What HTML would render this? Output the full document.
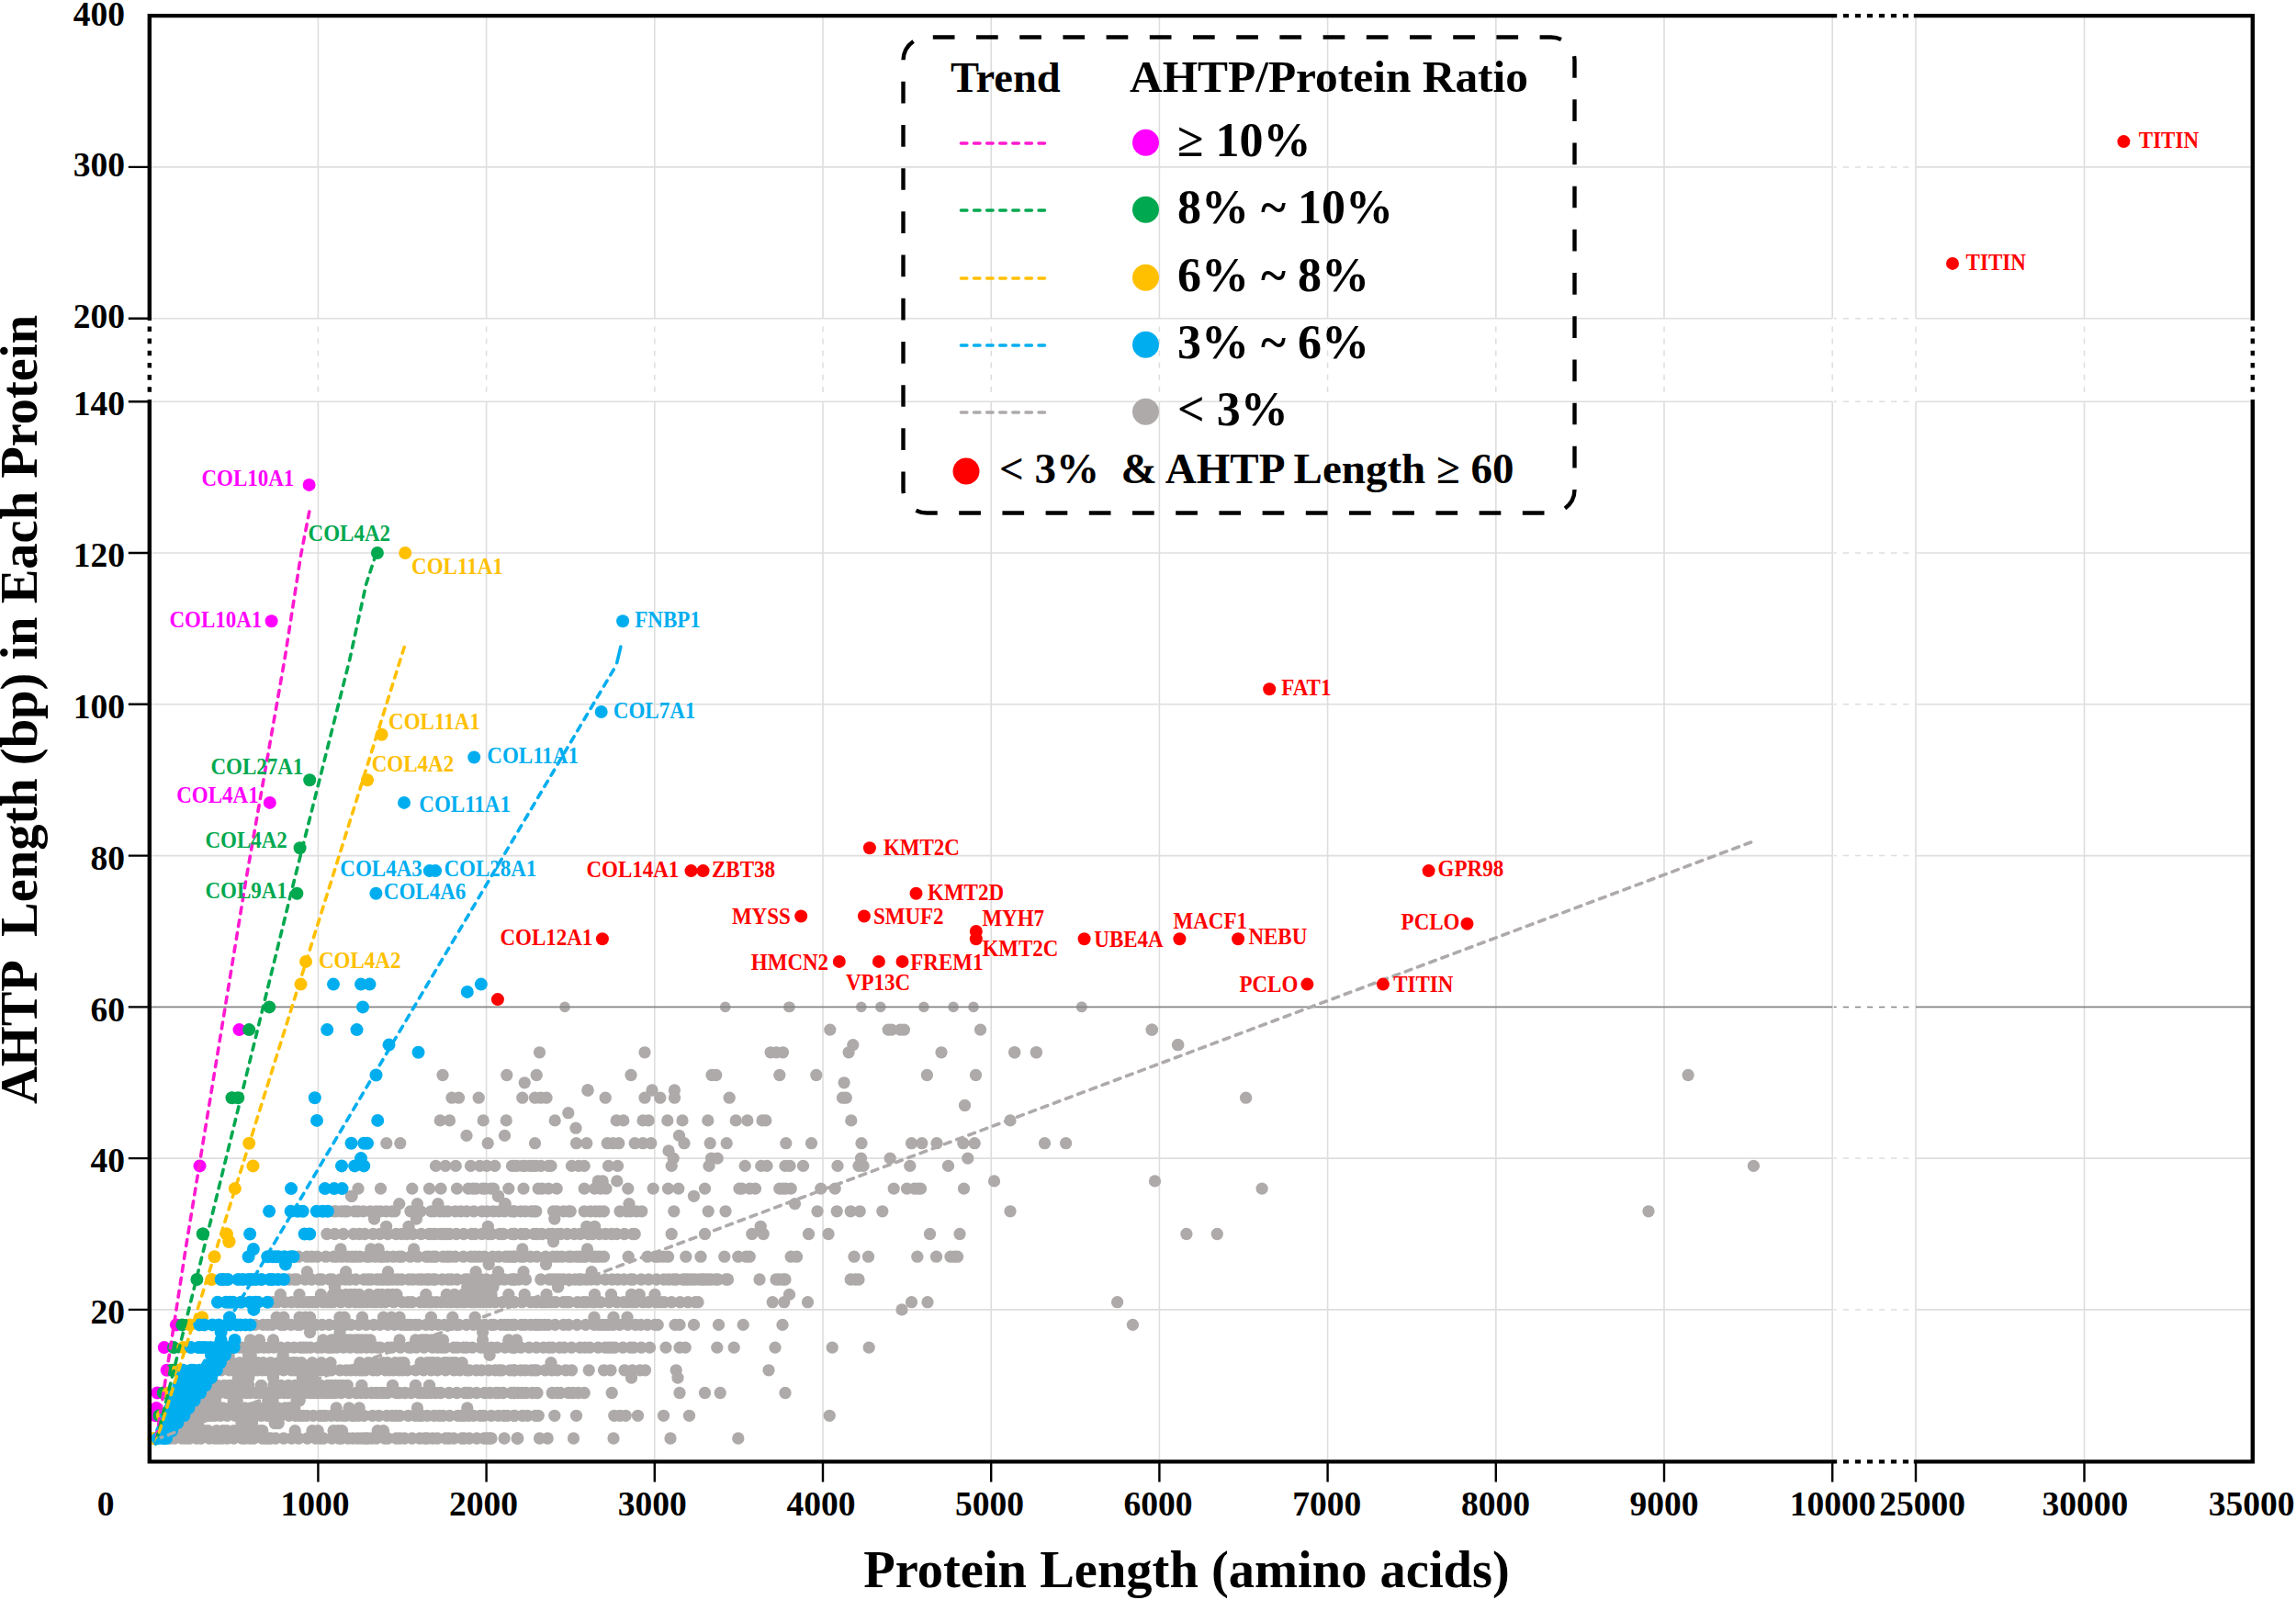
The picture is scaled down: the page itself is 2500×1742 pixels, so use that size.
<!DOCTYPE html>
<html><head><meta charset="utf-8"><title>AHTP Length vs Protein Length</title>
<style>html,body{margin:0;padding:0;background:#fff}body{width:2500px;height:1742px;overflow:hidden}</style></head>
<body>
<svg width="2500" height="1742" viewBox="0 0 2500 1742" style="display:block">
<rect width="2500" height="1742" fill="#fff"/>
<g stroke="#dedede" stroke-width="1.6" fill="none">
<path d="M346.4 17.1 V346.7 M346.4 437.2 V1591.4"/>
<path d="M529.6 17.1 V346.7 M529.6 437.2 V1591.4"/>
<path d="M712.8 17.1 V346.7 M712.8 437.2 V1591.4"/>
<path d="M896.0 17.1 V346.7 M896.0 437.2 V1591.4"/>
<path d="M1079.2 17.1 V346.7 M1079.2 437.2 V1591.4"/>
<path d="M1262.4 17.1 V346.7 M1262.4 437.2 V1591.4"/>
<path d="M1445.6 17.1 V346.7 M1445.6 437.2 V1591.4"/>
<path d="M1628.8 17.1 V346.7 M1628.8 437.2 V1591.4"/>
<path d="M1812.0 17.1 V346.7 M1812.0 437.2 V1591.4"/>
<path d="M1995.2 17.1 V346.7 M1995.2 437.2 V1591.4"/>
<path d="M2086.0 17.1 V346.7 M2086.0 437.2 V1591.4"/>
<path d="M2269.5 17.1 V346.7 M2269.5 437.2 V1591.4"/>
<path d="M162.8 1425.9 H1995.2 M2086.0 1425.9 H2452.8"/>
<path d="M162.8 1261.1 H1995.2 M2086.0 1261.1 H2452.8"/>
<path d="M162.8 931.6 H1995.2 M2086.0 931.6 H2452.8"/>
<path d="M162.8 766.8 H1995.2 M2086.0 766.8 H2452.8"/>
<path d="M162.8 602.0 H1995.2 M2086.0 602.0 H2452.8"/>
<path d="M162.8 437.2 H1995.2 M2086.0 437.2 H2452.8"/>
<path d="M162.8 346.7 H1995.2 M2086.0 346.7 H2452.8"/>
<path d="M162.8 181.9 H1995.2 M2086.0 181.9 H2452.8"/>
</g>
<g stroke="#dedede" stroke-width="1.5" fill="none" stroke-dasharray="6.2 6.87">
<path d="M346.4 355.4 V431.2"/>
<path d="M529.6 355.4 V431.2"/>
<path d="M712.8 355.4 V431.2"/>
<path d="M896.0 355.4 V431.2"/>
<path d="M1079.2 355.4 V431.2"/>
<path d="M1262.4 355.4 V431.2"/>
<path d="M1445.6 355.4 V431.2"/>
<path d="M1628.8 355.4 V431.2"/>
<path d="M1812.0 355.4 V431.2"/>
<path d="M1995.2 355.4 V431.2"/>
<path d="M2086.0 355.4 V431.2"/>
<path d="M2269.5 355.4 V431.2"/>
</g>
<g stroke="#dedede" stroke-width="1.5" fill="none" stroke-dasharray="6.3 6.77">
<path d="M2006.8 1425.9 H2080.0 "/>
<path d="M1996.7 1425.9 h3" stroke-dasharray="none"/>
<path d="M2006.8 1261.1 H2080.0 "/>
<path d="M1996.7 1261.1 h3" stroke-dasharray="none"/>
<path d="M2006.8 931.6 H2080.0 "/>
<path d="M1996.7 931.6 h3" stroke-dasharray="none"/>
<path d="M2006.8 766.8 H2080.0 "/>
<path d="M1996.7 766.8 h3" stroke-dasharray="none"/>
<path d="M2006.8 602.0 H2080.0 "/>
<path d="M1996.7 602.0 h3" stroke-dasharray="none"/>
<path d="M2006.8 437.2 H2080.0 "/>
<path d="M1996.7 437.2 h3" stroke-dasharray="none"/>
<path d="M2006.8 346.7 H2080.0 "/>
<path d="M1996.7 346.7 h3" stroke-dasharray="none"/>
<path d="M2006.8 181.9 H2080.0 "/>
<path d="M1996.7 181.9 h3" stroke-dasharray="none"/>
</g>
<g fill="#AEAAAA">
<circle cx="615.0" cy="1096.4" r="5.8"/><circle cx="587.5" cy="1145.8" r="6.65"/><circle cx="702.0" cy="1145.8" r="6.65"/><circle cx="482.0" cy="1170.5" r="6.65"/><circle cx="551.8" cy="1170.5" r="6.65"/><circle cx="584.2" cy="1170.5" r="6.65"/><circle cx="687.0" cy="1170.5" r="6.65"/><circle cx="571.2" cy="1178.8" r="6.65"/><circle cx="640.0" cy="1187.0" r="6.65"/><circle cx="710.0" cy="1187.0" r="6.65"/><circle cx="492.0" cy="1195.2" r="6.65"/><circle cx="499.5" cy="1195.2" r="6.65"/><circle cx="521.2" cy="1195.2" r="6.65"/><circle cx="479.2" cy="1219.9" r="6.65"/><circle cx="489.5" cy="1219.9" r="6.65"/><circle cx="526.2" cy="1219.9" r="6.65"/><circle cx="551.2" cy="1219.9" r="6.65"/><circle cx="508.0" cy="1236.4" r="6.65"/><circle cx="549.5" cy="1236.4" r="6.65"/><circle cx="420.8" cy="1244.7" r="6.65"/><circle cx="435.8" cy="1244.7" r="6.65"/><circle cx="531.2" cy="1244.7" r="6.65"/><circle cx="474.5" cy="1269.4" r="6.65"/><circle cx="485.0" cy="1269.4" r="6.65"/><circle cx="496.2" cy="1269.4" r="6.65"/><circle cx="512.5" cy="1269.4" r="6.65"/><circle cx="522.5" cy="1269.4" r="6.65"/><circle cx="530.0" cy="1269.4" r="6.65"/><circle cx="538.8" cy="1269.4" r="6.65"/><circle cx="557.5" cy="1269.4" r="6.65"/><circle cx="390.0" cy="1294.1" r="6.65"/><circle cx="414.5" cy="1294.1" r="6.65"/><circle cx="448.8" cy="1294.1" r="6.65"/><circle cx="467.5" cy="1294.1" r="6.65"/><circle cx="480.0" cy="1294.1" r="6.65"/><circle cx="497.5" cy="1294.1" r="6.65"/><circle cx="510.0" cy="1294.1" r="6.65"/><circle cx="514.8" cy="1294.1" r="6.65"/><circle cx="518.3" cy="1294.1" r="6.65"/><circle cx="525.4" cy="1294.1" r="6.65"/><circle cx="528.4" cy="1294.1" r="6.65"/><circle cx="534.6" cy="1294.1" r="6.65"/><circle cx="537.5" cy="1294.1" r="6.65"/><circle cx="553.8" cy="1294.1" r="6.65"/><circle cx="382.5" cy="1302.3" r="6.65"/><circle cx="542.5" cy="1302.3" r="6.65"/><circle cx="550.0" cy="1310.6" r="6.65"/><circle cx="789.7" cy="1096.4" r="5.8"/><circle cx="858.8" cy="1096.4" r="5.8"/><circle cx="839.1" cy="1145.8" r="6.65"/><circle cx="845.3" cy="1145.8" r="6.65"/><circle cx="852.5" cy="1145.8" r="6.65"/><circle cx="775.0" cy="1170.5" r="6.65"/><circle cx="779.7" cy="1170.5" r="6.65"/><circle cx="848.8" cy="1170.5" r="6.65"/><circle cx="734.4" cy="1187.0" r="6.65"/><circle cx="860.0" cy="1096.4" r="5.8"/><circle cx="937.8" cy="1096.4" r="5.8"/><circle cx="958.8" cy="1096.4" r="5.8"/><circle cx="1005.9" cy="1096.4" r="5.8"/><circle cx="1038.1" cy="1096.4" r="5.8"/><circle cx="1060.0" cy="1096.4" r="5.8"/><circle cx="1177.8" cy="1096.4" r="5.8"/><circle cx="903.8" cy="1121.1" r="6.65"/><circle cx="967.2" cy="1121.1" r="6.65"/><circle cx="970.9" cy="1121.1" r="6.65"/><circle cx="980.3" cy="1121.1" r="6.65"/><circle cx="984.4" cy="1121.1" r="6.65"/><circle cx="1067.5" cy="1121.1" r="6.65"/><circle cx="1254.4" cy="1121.1" r="6.65"/><circle cx="928.8" cy="1137.6" r="6.65"/><circle cx="1282.5" cy="1137.6" r="6.65"/><circle cx="924.1" cy="1145.8" r="6.65"/><circle cx="1025.0" cy="1145.8" r="6.65"/><circle cx="1104.7" cy="1145.8" r="6.65"/><circle cx="1128.4" cy="1145.8" r="6.65"/><circle cx="888.8" cy="1170.5" r="6.65"/><circle cx="1009.4" cy="1170.5" r="6.65"/><circle cx="1062.5" cy="1170.5" r="6.65"/><circle cx="919.1" cy="1178.8" r="6.65"/><circle cx="1356.6" cy="1195.2" r="6.65"/><circle cx="1137.5" cy="1244.7" r="6.65"/><circle cx="1160.6" cy="1244.7" r="6.65"/><circle cx="1257.5" cy="1285.9" r="6.65"/><circle cx="1374.1" cy="1294.1" r="6.65"/><circle cx="1291.9" cy="1343.5" r="6.65"/><circle cx="1325.3" cy="1343.5" r="6.65"/><circle cx="1216.6" cy="1417.7" r="6.65"/><circle cx="1233.4" cy="1442.4" r="6.65"/><circle cx="1177.8" cy="1096.4" r="5.8"/><circle cx="1254.1" cy="1121.1" r="6.65"/><circle cx="1282.8" cy="1137.6" r="6.65"/><circle cx="1104.7" cy="1145.8" r="6.65"/><circle cx="1128.4" cy="1145.8" r="6.65"/><circle cx="1838.1" cy="1170.5" r="6.65"/><circle cx="1909.4" cy="1269.4" r="6.65"/><circle cx="1795.0" cy="1318.8" r="6.65"/><circle cx="568.8" cy="1195.2" r="6.65"/><circle cx="582.5" cy="1195.2" r="6.65"/><circle cx="588.8" cy="1195.2" r="6.65"/><circle cx="595.0" cy="1195.2" r="6.65"/><circle cx="659.2" cy="1195.2" r="6.65"/><circle cx="702.0" cy="1195.2" r="6.65"/><circle cx="718.8" cy="1195.2" r="6.65"/><circle cx="734.5" cy="1195.2" r="6.65"/><circle cx="794.2" cy="1195.2" r="6.65"/><circle cx="917.5" cy="1195.2" r="6.65"/><circle cx="921.2" cy="1195.2" r="6.65"/><circle cx="640.0" cy="1187.0" r="6.65"/><circle cx="1050.5" cy="1203.5" r="6.65"/><circle cx="618.8" cy="1211.7" r="6.65"/><circle cx="604.2" cy="1219.9" r="6.65"/><circle cx="671.2" cy="1219.9" r="6.65"/><circle cx="678.8" cy="1219.9" r="6.65"/><circle cx="700.0" cy="1219.9" r="6.65"/><circle cx="706.2" cy="1219.9" r="6.65"/><circle cx="726.8" cy="1219.9" r="6.65"/><circle cx="743.0" cy="1219.9" r="6.65"/><circle cx="770.8" cy="1219.9" r="6.65"/><circle cx="801.2" cy="1219.9" r="6.65"/><circle cx="813.8" cy="1219.9" r="6.65"/><circle cx="830.0" cy="1219.9" r="6.65"/><circle cx="833.8" cy="1219.9" r="6.65"/><circle cx="926.8" cy="1219.9" r="6.65"/><circle cx="1100.0" cy="1219.9" r="6.65"/><circle cx="627.0" cy="1228.2" r="6.65"/><circle cx="739.5" cy="1236.4" r="6.65"/><circle cx="582.5" cy="1244.7" r="6.65"/><circle cx="627.5" cy="1244.7" r="6.65"/><circle cx="638.8" cy="1244.7" r="6.65"/><circle cx="661.2" cy="1244.7" r="6.65"/><circle cx="667.5" cy="1244.7" r="6.65"/><circle cx="673.8" cy="1244.7" r="6.65"/><circle cx="691.2" cy="1244.7" r="6.65"/><circle cx="700.0" cy="1244.7" r="6.65"/><circle cx="708.8" cy="1244.7" r="6.65"/><circle cx="745.0" cy="1244.7" r="6.65"/><circle cx="773.2" cy="1244.7" r="6.65"/><circle cx="791.2" cy="1244.7" r="6.65"/><circle cx="855.8" cy="1244.7" r="6.65"/><circle cx="883.5" cy="1244.7" r="6.65"/><circle cx="938.0" cy="1244.7" r="6.65"/><circle cx="992.5" cy="1244.7" r="6.65"/><circle cx="1003.8" cy="1244.7" r="6.65"/><circle cx="1020.0" cy="1244.7" r="6.65"/><circle cx="1048.8" cy="1244.7" r="6.65"/><circle cx="1061.2" cy="1244.7" r="6.65"/><circle cx="728.0" cy="1252.9" r="6.65"/><circle cx="733.2" cy="1261.1" r="6.65"/><circle cx="774.5" cy="1261.1" r="6.65"/><circle cx="781.2" cy="1261.1" r="6.65"/><circle cx="937.5" cy="1261.1" r="6.65"/><circle cx="969.2" cy="1261.1" r="6.65"/><circle cx="1053.8" cy="1261.1" r="6.65"/><circle cx="560.0" cy="1269.4" r="6.65"/><circle cx="562.9" cy="1269.4" r="6.65"/><circle cx="569.0" cy="1269.4" r="6.65"/><circle cx="571.7" cy="1269.4" r="6.65"/><circle cx="577.3" cy="1269.4" r="6.65"/><circle cx="580.2" cy="1269.4" r="6.65"/><circle cx="583.4" cy="1269.4" r="6.65"/><circle cx="588.9" cy="1269.4" r="6.65"/><circle cx="597.1" cy="1269.4" r="6.65"/><circle cx="600.0" cy="1269.4" r="6.65"/><circle cx="622.5" cy="1269.4" r="6.65"/><circle cx="630.0" cy="1269.4" r="6.65"/><circle cx="636.2" cy="1269.4" r="6.65"/><circle cx="662.5" cy="1269.4" r="6.65"/><circle cx="672.5" cy="1269.4" r="6.65"/><circle cx="731.2" cy="1269.4" r="6.65"/><circle cx="772.0" cy="1269.4" r="6.65"/><circle cx="811.2" cy="1269.4" r="6.65"/><circle cx="828.8" cy="1269.4" r="6.65"/><circle cx="835.0" cy="1269.4" r="6.65"/><circle cx="855.0" cy="1269.4" r="6.65"/><circle cx="860.0" cy="1269.4" r="6.65"/><circle cx="874.5" cy="1269.4" r="6.65"/><circle cx="912.0" cy="1269.4" r="6.65"/><circle cx="935.0" cy="1269.4" r="6.65"/><circle cx="940.0" cy="1269.4" r="6.65"/><circle cx="990.8" cy="1269.4" r="6.65"/><circle cx="1032.5" cy="1269.4" r="6.65"/><circle cx="1082.5" cy="1285.9" r="6.65"/><circle cx="651.2" cy="1285.9" r="6.65"/><circle cx="656.2" cy="1285.9" r="6.65"/><circle cx="671.8" cy="1285.9" r="6.65"/><circle cx="570.0" cy="1294.1" r="6.65"/><circle cx="586.2" cy="1294.1" r="6.65"/><circle cx="590.3" cy="1294.1" r="6.65"/><circle cx="597.2" cy="1294.1" r="6.65"/><circle cx="606.2" cy="1294.1" r="6.65"/><circle cx="636.2" cy="1294.1" r="6.65"/><circle cx="647.5" cy="1294.1" r="6.65"/><circle cx="654.0" cy="1294.1" r="6.65"/><circle cx="660.0" cy="1294.1" r="6.65"/><circle cx="683.8" cy="1294.1" r="6.65"/><circle cx="711.2" cy="1294.1" r="6.65"/><circle cx="727.5" cy="1294.1" r="6.65"/><circle cx="738.8" cy="1294.1" r="6.65"/><circle cx="767.5" cy="1294.1" r="6.65"/><circle cx="805.0" cy="1294.1" r="6.65"/><circle cx="807.8" cy="1294.1" r="6.65"/><circle cx="816.3" cy="1294.1" r="6.65"/><circle cx="822.5" cy="1294.1" r="6.65"/><circle cx="848.8" cy="1294.1" r="6.65"/><circle cx="852.3" cy="1294.1" r="6.65"/><circle cx="855.6" cy="1294.1" r="6.65"/><circle cx="861.2" cy="1294.1" r="6.65"/><circle cx="893.8" cy="1294.1" r="6.65"/><circle cx="909.2" cy="1294.1" r="6.65"/><circle cx="973.2" cy="1294.1" r="6.65"/><circle cx="987.5" cy="1294.1" r="6.65"/><circle cx="995.7" cy="1294.1" r="6.65"/><circle cx="999.5" cy="1294.1" r="6.65"/><circle cx="1002.5" cy="1294.1" r="6.65"/><circle cx="1049.5" cy="1294.1" r="6.65"/><circle cx="755.5" cy="1302.3" r="6.65"/><circle cx="685.0" cy="1310.6" r="6.65"/><circle cx="865.5" cy="1310.6" r="6.65"/><circle cx="560.0" cy="1318.8" r="6.65"/><circle cx="567.0" cy="1318.8" r="6.65"/><circle cx="572.1" cy="1318.8" r="6.65"/><circle cx="578.4" cy="1318.8" r="6.65"/><circle cx="581.4" cy="1318.8" r="6.65"/><circle cx="583.8" cy="1318.8" r="6.65"/><circle cx="602.5" cy="1318.8" r="6.65"/><circle cx="606.4" cy="1318.8" r="6.65"/><circle cx="613.7" cy="1318.8" r="6.65"/><circle cx="619.2" cy="1318.8" r="6.65"/><circle cx="621.2" cy="1318.8" r="6.65"/><circle cx="636.2" cy="1318.8" r="6.65"/><circle cx="642.8" cy="1318.8" r="6.65"/><circle cx="648.5" cy="1318.8" r="6.65"/><circle cx="653.1" cy="1318.8" r="6.65"/><circle cx="657.5" cy="1318.8" r="6.65"/><circle cx="675.0" cy="1318.8" r="6.65"/><circle cx="682.4" cy="1318.8" r="6.65"/><circle cx="686.6" cy="1318.8" r="6.65"/><circle cx="693.1" cy="1318.8" r="6.65"/><circle cx="698.8" cy="1318.8" r="6.65"/><circle cx="733.8" cy="1318.8" r="6.65"/><circle cx="771.2" cy="1318.8" r="6.65"/><circle cx="790.0" cy="1318.8" r="6.65"/><circle cx="890.0" cy="1318.8" r="6.65"/><circle cx="911.2" cy="1318.8" r="6.65"/><circle cx="926.2" cy="1318.8" r="6.65"/><circle cx="936.2" cy="1318.8" r="6.65"/><circle cx="960.8" cy="1318.8" r="6.65"/><circle cx="1100.0" cy="1318.8" r="6.65"/><circle cx="603.8" cy="1327.1" r="6.65"/><circle cx="638.8" cy="1335.3" r="6.65"/><circle cx="647.5" cy="1335.3" r="6.65"/><circle cx="828.2" cy="1335.3" r="6.65"/><circle cx="560.0" cy="1343.5" r="6.65"/><circle cx="567.6" cy="1343.5" r="6.65"/><circle cx="572.1" cy="1343.5" r="6.65"/><circle cx="581.5" cy="1343.5" r="6.65"/><circle cx="584.8" cy="1343.5" r="6.65"/><circle cx="590.2" cy="1343.5" r="6.65"/><circle cx="598.0" cy="1343.5" r="6.65"/><circle cx="601.6" cy="1343.5" r="6.65"/><circle cx="607.5" cy="1343.5" r="6.65"/><circle cx="610.3" cy="1343.5" r="6.65"/><circle cx="617.5" cy="1343.5" r="6.65"/><circle cx="625.3" cy="1343.5" r="6.65"/><circle cx="631.8" cy="1343.5" r="6.65"/><circle cx="640.5" cy="1343.5" r="6.65"/><circle cx="645.2" cy="1343.5" r="6.65"/><circle cx="652.5" cy="1343.5" r="6.65"/><circle cx="659.2" cy="1343.5" r="6.65"/><circle cx="665.7" cy="1343.5" r="6.65"/><circle cx="671.4" cy="1343.5" r="6.65"/><circle cx="679.8" cy="1343.5" r="6.65"/><circle cx="688.9" cy="1343.5" r="6.65"/><circle cx="691.2" cy="1343.5" r="6.65"/><circle cx="731.2" cy="1343.5" r="6.65"/><circle cx="767.5" cy="1343.5" r="6.65"/><circle cx="818.8" cy="1343.5" r="6.65"/><circle cx="831.2" cy="1343.5" r="6.65"/><circle cx="880.5" cy="1343.5" r="6.65"/><circle cx="902.0" cy="1343.5" r="6.65"/><circle cx="1012.5" cy="1343.5" r="6.65"/><circle cx="1045.0" cy="1343.5" r="6.65"/><circle cx="602.5" cy="1351.8" r="6.65"/><circle cx="568.8" cy="1360.0" r="6.65"/><circle cx="639.5" cy="1360.0" r="6.65"/><circle cx="560.0" cy="1368.2" r="6.65"/><circle cx="567.1" cy="1368.2" r="6.65"/><circle cx="570.1" cy="1368.2" r="6.65"/><circle cx="577.5" cy="1368.2" r="6.65"/><circle cx="584.5" cy="1368.2" r="6.65"/><circle cx="594.0" cy="1368.2" r="6.65"/><circle cx="602.2" cy="1368.2" r="6.65"/><circle cx="606.7" cy="1368.2" r="6.65"/><circle cx="611.9" cy="1368.2" r="6.65"/><circle cx="619.1" cy="1368.2" r="6.65"/><circle cx="621.8" cy="1368.2" r="6.65"/><circle cx="627.5" cy="1368.2" r="6.65"/><circle cx="631.2" cy="1368.2" r="6.65"/><circle cx="634.5" cy="1368.2" r="6.65"/><circle cx="637.4" cy="1368.2" r="6.65"/><circle cx="645.3" cy="1368.2" r="6.65"/><circle cx="648.7" cy="1368.2" r="6.65"/><circle cx="652.9" cy="1368.2" r="6.65"/><circle cx="657.5" cy="1368.2" r="6.65"/><circle cx="684.2" cy="1368.2" r="6.65"/><circle cx="705.0" cy="1368.2" r="6.65"/><circle cx="713.6" cy="1368.2" r="6.65"/><circle cx="716.7" cy="1368.2" r="6.65"/><circle cx="722.3" cy="1368.2" r="6.65"/><circle cx="727.5" cy="1368.2" r="6.65"/><circle cx="746.8" cy="1368.2" r="6.65"/><circle cx="763.0" cy="1368.2" r="6.65"/><circle cx="788.8" cy="1368.2" r="6.65"/><circle cx="803.8" cy="1368.2" r="6.65"/><circle cx="812.4" cy="1368.2" r="6.65"/><circle cx="816.2" cy="1368.2" r="6.65"/><circle cx="861.2" cy="1368.2" r="6.65"/><circle cx="867.5" cy="1368.2" r="6.65"/><circle cx="930.0" cy="1368.2" r="6.65"/><circle cx="945.5" cy="1368.2" r="6.65"/><circle cx="998.8" cy="1368.2" r="6.65"/><circle cx="1019.5" cy="1368.2" r="6.65"/><circle cx="1035.0" cy="1368.2" r="6.65"/><circle cx="1039.4" cy="1368.2" r="6.65"/><circle cx="1042.5" cy="1368.2" r="6.65"/><circle cx="594.5" cy="1376.5" r="6.65"/><circle cx="570.0" cy="1384.7" r="6.65"/><circle cx="644.2" cy="1384.7" r="6.65"/><circle cx="560.0" cy="1393.0" r="6.65"/><circle cx="565.0" cy="1393.0" r="6.65"/><circle cx="572.5" cy="1393.0" r="6.65"/><circle cx="588.8" cy="1393.0" r="6.65"/><circle cx="598.0" cy="1393.0" r="6.65"/><circle cx="601.5" cy="1393.0" r="6.65"/><circle cx="605.2" cy="1393.0" r="6.65"/><circle cx="609.4" cy="1393.0" r="6.65"/><circle cx="613.5" cy="1393.0" r="6.65"/><circle cx="619.4" cy="1393.0" r="6.65"/><circle cx="626.0" cy="1393.0" r="6.65"/><circle cx="630.4" cy="1393.0" r="6.65"/><circle cx="632.9" cy="1393.0" r="6.65"/><circle cx="638.3" cy="1393.0" r="6.65"/><circle cx="643.4" cy="1393.0" r="6.65"/><circle cx="649.9" cy="1393.0" r="6.65"/><circle cx="659.0" cy="1393.0" r="6.65"/><circle cx="666.4" cy="1393.0" r="6.65"/><circle cx="672.5" cy="1393.0" r="6.65"/><circle cx="679.3" cy="1393.0" r="6.65"/><circle cx="686.5" cy="1393.0" r="6.65"/><circle cx="689.4" cy="1393.0" r="6.65"/><circle cx="698.2" cy="1393.0" r="6.65"/><circle cx="706.2" cy="1393.0" r="6.65"/><circle cx="714.8" cy="1393.0" r="6.65"/><circle cx="722.9" cy="1393.0" r="6.65"/><circle cx="728.1" cy="1393.0" r="6.65"/><circle cx="733.4" cy="1393.0" r="6.65"/><circle cx="736.6" cy="1393.0" r="6.65"/><circle cx="743.6" cy="1393.0" r="6.65"/><circle cx="746.5" cy="1393.0" r="6.65"/><circle cx="749.5" cy="1393.0" r="6.65"/><circle cx="753.5" cy="1393.0" r="6.65"/><circle cx="757.1" cy="1393.0" r="6.65"/><circle cx="762.0" cy="1393.0" r="6.65"/><circle cx="764.8" cy="1393.0" r="6.65"/><circle cx="767.3" cy="1393.0" r="6.65"/><circle cx="770.9" cy="1393.0" r="6.65"/><circle cx="774.1" cy="1393.0" r="6.65"/><circle cx="779.2" cy="1393.0" r="6.65"/><circle cx="781.8" cy="1393.0" r="6.65"/><circle cx="790.5" cy="1393.0" r="6.65"/><circle cx="792.5" cy="1393.0" r="6.65"/><circle cx="827.0" cy="1393.0" r="6.65"/><circle cx="845.0" cy="1393.0" r="6.65"/><circle cx="848.5" cy="1393.0" r="6.65"/><circle cx="852.8" cy="1393.0" r="6.65"/><circle cx="855.0" cy="1393.0" r="6.65"/><circle cx="926.2" cy="1393.0" r="6.65"/><circle cx="931.3" cy="1393.0" r="6.65"/><circle cx="935.0" cy="1393.0" r="6.65"/><circle cx="607.5" cy="1401.2" r="6.65"/><circle cx="571.2" cy="1409.4" r="6.65"/><circle cx="595.0" cy="1409.4" r="6.65"/><circle cx="647.5" cy="1409.4" r="6.65"/><circle cx="665.5" cy="1409.4" r="6.65"/><circle cx="687.5" cy="1409.4" r="6.65"/><circle cx="696.2" cy="1409.4" r="6.65"/><circle cx="713.0" cy="1409.4" r="6.65"/><circle cx="859.5" cy="1409.4" r="6.65"/><circle cx="560.0" cy="1417.7" r="6.65"/><circle cx="568.4" cy="1417.7" r="6.65"/><circle cx="577.9" cy="1417.7" r="6.65"/><circle cx="583.7" cy="1417.7" r="6.65"/><circle cx="589.5" cy="1417.7" r="6.65"/><circle cx="592.6" cy="1417.7" r="6.65"/><circle cx="595.9" cy="1417.7" r="6.65"/><circle cx="600.8" cy="1417.7" r="6.65"/><circle cx="605.1" cy="1417.7" r="6.65"/><circle cx="613.4" cy="1417.7" r="6.65"/><circle cx="617.0" cy="1417.7" r="6.65"/><circle cx="619.7" cy="1417.7" r="6.65"/><circle cx="628.9" cy="1417.7" r="6.65"/><circle cx="635.1" cy="1417.7" r="6.65"/><circle cx="638.6" cy="1417.7" r="6.65"/><circle cx="644.9" cy="1417.7" r="6.65"/><circle cx="647.6" cy="1417.7" r="6.65"/><circle cx="653.8" cy="1417.7" r="6.65"/><circle cx="663.1" cy="1417.7" r="6.65"/><circle cx="671.7" cy="1417.7" r="6.65"/><circle cx="679.0" cy="1417.7" r="6.65"/><circle cx="683.4" cy="1417.7" r="6.65"/><circle cx="688.4" cy="1417.7" r="6.65"/><circle cx="692.1" cy="1417.7" r="6.65"/><circle cx="700.0" cy="1417.7" r="6.65"/><circle cx="706.2" cy="1417.7" r="6.65"/><circle cx="714.2" cy="1417.7" r="6.65"/><circle cx="719.0" cy="1417.7" r="6.65"/><circle cx="723.1" cy="1417.7" r="6.65"/><circle cx="731.2" cy="1417.7" r="6.65"/><circle cx="740.6" cy="1417.7" r="6.65"/><circle cx="749.1" cy="1417.7" r="6.65"/><circle cx="757.2" cy="1417.7" r="6.65"/><circle cx="760.0" cy="1417.7" r="6.65"/><circle cx="841.2" cy="1417.7" r="6.65"/><circle cx="853.8" cy="1417.7" r="6.65"/><circle cx="879.5" cy="1417.7" r="6.65"/><circle cx="992.5" cy="1417.7" r="6.65"/><circle cx="1010.0" cy="1417.7" r="6.65"/><circle cx="982.0" cy="1425.9" r="6.65"/><circle cx="647.0" cy="1434.2" r="6.65"/><circle cx="668.0" cy="1434.2" r="6.65"/><circle cx="683.0" cy="1434.2" r="6.65"/><circle cx="560.0" cy="1442.4" r="6.65"/><circle cx="567.7" cy="1442.4" r="6.65"/><circle cx="571.8" cy="1442.4" r="6.65"/><circle cx="577.9" cy="1442.4" r="6.65"/><circle cx="582.9" cy="1442.4" r="6.65"/><circle cx="585.6" cy="1442.4" r="6.65"/><circle cx="588.3" cy="1442.4" r="6.65"/><circle cx="592.7" cy="1442.4" r="6.65"/><circle cx="597.0" cy="1442.4" r="6.65"/><circle cx="604.4" cy="1442.4" r="6.65"/><circle cx="613.6" cy="1442.4" r="6.65"/><circle cx="619.2" cy="1442.4" r="6.65"/><circle cx="628.3" cy="1442.4" r="6.65"/><circle cx="637.7" cy="1442.4" r="6.65"/><circle cx="646.9" cy="1442.4" r="6.65"/><circle cx="651.9" cy="1442.4" r="6.65"/><circle cx="656.0" cy="1442.4" r="6.65"/><circle cx="660.1" cy="1442.4" r="6.65"/><circle cx="663.9" cy="1442.4" r="6.65"/><circle cx="667.9" cy="1442.4" r="6.65"/><circle cx="674.7" cy="1442.4" r="6.65"/><circle cx="683.5" cy="1442.4" r="6.65"/><circle cx="691.9" cy="1442.4" r="6.65"/><circle cx="697.8" cy="1442.4" r="6.65"/><circle cx="704.9" cy="1442.4" r="6.65"/><circle cx="713.0" cy="1442.4" r="6.65"/><circle cx="716.2" cy="1442.4" r="6.65"/><circle cx="735.0" cy="1442.4" r="6.65"/><circle cx="740.0" cy="1442.4" r="6.65"/><circle cx="755.5" cy="1442.4" r="6.65"/><circle cx="782.5" cy="1442.4" r="6.65"/><circle cx="809.2" cy="1442.4" r="6.65"/><circle cx="852.0" cy="1442.4" r="6.65"/><circle cx="562.5" cy="1458.9" r="6.65"/><circle cx="560.0" cy="1467.1" r="6.65"/><circle cx="567.1" cy="1467.1" r="6.65"/><circle cx="576.0" cy="1467.1" r="6.65"/><circle cx="584.0" cy="1467.1" r="6.65"/><circle cx="591.7" cy="1467.1" r="6.65"/><circle cx="597.6" cy="1467.1" r="6.65"/><circle cx="601.3" cy="1467.1" r="6.65"/><circle cx="609.3" cy="1467.1" r="6.65"/><circle cx="614.2" cy="1467.1" r="6.65"/><circle cx="622.3" cy="1467.1" r="6.65"/><circle cx="631.6" cy="1467.1" r="6.65"/><circle cx="636.8" cy="1467.1" r="6.65"/><circle cx="642.2" cy="1467.1" r="6.65"/><circle cx="651.3" cy="1467.1" r="6.65"/><circle cx="658.9" cy="1467.1" r="6.65"/><circle cx="662.5" cy="1467.1" r="6.65"/><circle cx="665.9" cy="1467.1" r="6.65"/><circle cx="669.5" cy="1467.1" r="6.65"/><circle cx="678.3" cy="1467.1" r="6.65"/><circle cx="686.5" cy="1467.1" r="6.65"/><circle cx="690.0" cy="1467.1" r="6.65"/><circle cx="698.3" cy="1467.1" r="6.65"/><circle cx="707.5" cy="1467.1" r="6.65"/><circle cx="725.0" cy="1467.1" r="6.65"/><circle cx="740.0" cy="1467.1" r="6.65"/><circle cx="746.2" cy="1467.1" r="6.65"/><circle cx="780.8" cy="1467.1" r="6.65"/><circle cx="799.2" cy="1467.1" r="6.65"/><circle cx="844.0" cy="1467.1" r="6.65"/><circle cx="906.2" cy="1467.1" r="6.65"/><circle cx="946.2" cy="1467.1" r="6.65"/><circle cx="600.0" cy="1483.6" r="6.65"/><circle cx="560.0" cy="1491.8" r="6.65"/><circle cx="567.1" cy="1491.8" r="6.65"/><circle cx="572.1" cy="1491.8" r="6.65"/><circle cx="578.4" cy="1491.8" r="6.65"/><circle cx="581.8" cy="1491.8" r="6.65"/><circle cx="584.4" cy="1491.8" r="6.65"/><circle cx="593.7" cy="1491.8" r="6.65"/><circle cx="600.8" cy="1491.8" r="6.65"/><circle cx="606.9" cy="1491.8" r="6.65"/><circle cx="616.0" cy="1491.8" r="6.65"/><circle cx="622.5" cy="1491.8" r="6.65"/><circle cx="641.2" cy="1491.8" r="6.65"/><circle cx="657.5" cy="1491.8" r="6.65"/><circle cx="665.0" cy="1491.8" r="6.65"/><circle cx="680.0" cy="1491.8" r="6.65"/><circle cx="688.6" cy="1491.8" r="6.65"/><circle cx="696.9" cy="1491.8" r="6.65"/><circle cx="702.5" cy="1491.8" r="6.65"/><circle cx="736.2" cy="1491.8" r="6.65"/><circle cx="837.0" cy="1491.8" r="6.65"/><circle cx="687.5" cy="1500.1" r="6.65"/><circle cx="738.0" cy="1500.1" r="6.65"/><circle cx="560.0" cy="1516.5" r="6.65"/><circle cx="564.3" cy="1516.5" r="6.65"/><circle cx="568.8" cy="1516.5" r="6.65"/><circle cx="573.0" cy="1516.5" r="6.65"/><circle cx="579.6" cy="1516.5" r="6.65"/><circle cx="585.0" cy="1516.5" r="6.65"/><circle cx="601.2" cy="1516.5" r="6.65"/><circle cx="606.7" cy="1516.5" r="6.65"/><circle cx="610.1" cy="1516.5" r="6.65"/><circle cx="619.0" cy="1516.5" r="6.65"/><circle cx="623.9" cy="1516.5" r="6.65"/><circle cx="629.7" cy="1516.5" r="6.65"/><circle cx="636.2" cy="1516.5" r="6.65"/><circle cx="666.2" cy="1516.5" r="6.65"/><circle cx="740.0" cy="1516.5" r="6.65"/><circle cx="767.5" cy="1516.5" r="6.65"/><circle cx="784.2" cy="1516.5" r="6.65"/><circle cx="855.0" cy="1516.5" r="6.65"/><circle cx="560.0" cy="1541.3" r="6.65"/><circle cx="568.8" cy="1541.3" r="6.65"/><circle cx="574.3" cy="1541.3" r="6.65"/><circle cx="583.2" cy="1541.3" r="6.65"/><circle cx="586.2" cy="1541.3" r="6.65"/><circle cx="603.8" cy="1541.3" r="6.65"/><circle cx="627.5" cy="1541.3" r="6.65"/><circle cx="668.8" cy="1541.3" r="6.65"/><circle cx="675.0" cy="1541.3" r="6.65"/><circle cx="681.2" cy="1541.3" r="6.65"/><circle cx="694.5" cy="1541.3" r="6.65"/><circle cx="722.5" cy="1541.3" r="6.65"/><circle cx="750.5" cy="1541.3" r="6.65"/><circle cx="903.2" cy="1541.3" r="6.65"/><circle cx="563.8" cy="1566.0" r="6.65"/><circle cx="587.5" cy="1566.0" r="6.65"/><circle cx="596.2" cy="1566.0" r="6.65"/><circle cx="624.5" cy="1566.0" r="6.65"/><circle cx="668.0" cy="1566.0" r="6.65"/><circle cx="730.0" cy="1566.0" r="6.65"/><circle cx="803.8" cy="1566.0" r="6.65"/><circle cx="363.4" cy="1318.8" r="6.65"/><circle cx="366.1" cy="1318.8" r="6.65"/><circle cx="371.7" cy="1318.8" r="6.65"/><circle cx="375.4" cy="1318.8" r="6.65"/><circle cx="378.0" cy="1318.8" r="6.65"/><circle cx="386.1" cy="1318.8" r="6.65"/><circle cx="389.8" cy="1318.8" r="6.65"/><circle cx="395.6" cy="1318.8" r="6.65"/><circle cx="403.2" cy="1318.8" r="6.65"/><circle cx="409.5" cy="1318.8" r="6.65"/><circle cx="414.3" cy="1318.8" r="6.65"/><circle cx="420.5" cy="1318.8" r="6.65"/><circle cx="426.8" cy="1318.8" r="6.65"/><circle cx="430.0" cy="1318.8" r="6.65"/><circle cx="446.9" cy="1318.8" r="6.65"/><circle cx="452.5" cy="1318.8" r="6.65"/><circle cx="458.1" cy="1318.8" r="6.65"/><circle cx="469.4" cy="1318.8" r="6.65"/><circle cx="472.6" cy="1318.8" r="6.65"/><circle cx="479.0" cy="1318.8" r="6.65"/><circle cx="483.3" cy="1318.8" r="6.65"/><circle cx="487.7" cy="1318.8" r="6.65"/><circle cx="495.6" cy="1318.8" r="6.65"/><circle cx="501.7" cy="1318.8" r="6.65"/><circle cx="508.1" cy="1318.8" r="6.65"/><circle cx="515.9" cy="1318.8" r="6.65"/><circle cx="524.8" cy="1318.8" r="6.65"/><circle cx="530.4" cy="1318.8" r="6.65"/><circle cx="537.2" cy="1318.8" r="6.65"/><circle cx="543.2" cy="1318.8" r="6.65"/><circle cx="549.3" cy="1318.8" r="6.65"/><circle cx="556.7" cy="1318.8" r="6.65"/><circle cx="559.9" cy="1318.8" r="6.65"/><circle cx="355.9" cy="1343.5" r="6.65"/><circle cx="364.4" cy="1343.5" r="6.65"/><circle cx="373.8" cy="1343.5" r="6.65"/><circle cx="385.0" cy="1343.5" r="6.65"/><circle cx="391.2" cy="1343.5" r="6.65"/><circle cx="397.1" cy="1343.5" r="6.65"/><circle cx="406.2" cy="1343.5" r="6.65"/><circle cx="413.6" cy="1343.5" r="6.65"/><circle cx="422.2" cy="1343.5" r="6.65"/><circle cx="431.3" cy="1343.5" r="6.65"/><circle cx="437.5" cy="1343.5" r="6.65"/><circle cx="443.1" cy="1343.5" r="6.65"/><circle cx="449.5" cy="1343.5" r="6.65"/><circle cx="458.6" cy="1343.5" r="6.65"/><circle cx="467.0" cy="1343.5" r="6.65"/><circle cx="470.5" cy="1343.5" r="6.65"/><circle cx="473.8" cy="1343.5" r="6.65"/><circle cx="479.4" cy="1343.5" r="6.65"/><circle cx="482.4" cy="1343.5" r="6.65"/><circle cx="486.6" cy="1343.5" r="6.65"/><circle cx="489.6" cy="1343.5" r="6.65"/><circle cx="496.8" cy="1343.5" r="6.65"/><circle cx="504.8" cy="1343.5" r="6.65"/><circle cx="513.6" cy="1343.5" r="6.65"/><circle cx="517.2" cy="1343.5" r="6.65"/><circle cx="524.7" cy="1343.5" r="6.65"/><circle cx="531.8" cy="1343.5" r="6.65"/><circle cx="535.3" cy="1343.5" r="6.65"/><circle cx="544.0" cy="1343.5" r="6.65"/><circle cx="548.1" cy="1343.5" r="6.65"/><circle cx="557.5" cy="1343.5" r="6.65"/><circle cx="559.9" cy="1343.5" r="6.65"/><circle cx="325.0" cy="1368.2" r="6.65"/><circle cx="334.2" cy="1368.2" r="6.65"/><circle cx="339.5" cy="1368.2" r="6.65"/><circle cx="345.4" cy="1368.2" r="6.65"/><circle cx="354.8" cy="1368.2" r="6.65"/><circle cx="363.1" cy="1368.2" r="6.65"/><circle cx="366.8" cy="1368.2" r="6.65"/><circle cx="372.3" cy="1368.2" r="6.65"/><circle cx="378.4" cy="1368.2" r="6.65"/><circle cx="383.3" cy="1368.2" r="6.65"/><circle cx="387.1" cy="1368.2" r="6.65"/><circle cx="391.9" cy="1368.2" r="6.65"/><circle cx="399.4" cy="1368.2" r="6.65"/><circle cx="402.0" cy="1368.2" r="6.65"/><circle cx="408.4" cy="1368.2" r="6.65"/><circle cx="414.0" cy="1368.2" r="6.65"/><circle cx="416.6" cy="1368.2" r="6.65"/><circle cx="421.5" cy="1368.2" r="6.65"/><circle cx="428.3" cy="1368.2" r="6.65"/><circle cx="434.4" cy="1368.2" r="6.65"/><circle cx="437.4" cy="1368.2" r="6.65"/><circle cx="446.8" cy="1368.2" r="6.65"/><circle cx="454.8" cy="1368.2" r="6.65"/><circle cx="464.1" cy="1368.2" r="6.65"/><circle cx="467.3" cy="1368.2" r="6.65"/><circle cx="471.7" cy="1368.2" r="6.65"/><circle cx="474.4" cy="1368.2" r="6.65"/><circle cx="482.4" cy="1368.2" r="6.65"/><circle cx="486.8" cy="1368.2" r="6.65"/><circle cx="490.2" cy="1368.2" r="6.65"/><circle cx="495.7" cy="1368.2" r="6.65"/><circle cx="504.5" cy="1368.2" r="6.65"/><circle cx="512.8" cy="1368.2" r="6.65"/><circle cx="517.1" cy="1368.2" r="6.65"/><circle cx="521.9" cy="1368.2" r="6.65"/><circle cx="527.5" cy="1368.2" r="6.65"/><circle cx="536.4" cy="1368.2" r="6.65"/><circle cx="542.9" cy="1368.2" r="6.65"/><circle cx="550.3" cy="1368.2" r="6.65"/><circle cx="553.5" cy="1368.2" r="6.65"/><circle cx="556.4" cy="1368.2" r="6.65"/><circle cx="559.9" cy="1368.2" r="6.65"/><circle cx="314.7" cy="1393.0" r="6.65"/><circle cx="320.2" cy="1393.0" r="6.65"/><circle cx="323.2" cy="1393.0" r="6.65"/><circle cx="332.2" cy="1393.0" r="6.65"/><circle cx="339.2" cy="1393.0" r="6.65"/><circle cx="347.3" cy="1393.0" r="6.65"/><circle cx="350.4" cy="1393.0" r="6.65"/><circle cx="358.9" cy="1393.0" r="6.65"/><circle cx="361.8" cy="1393.0" r="6.65"/><circle cx="370.4" cy="1393.0" r="6.65"/><circle cx="376.1" cy="1393.0" r="6.65"/><circle cx="380.9" cy="1393.0" r="6.65"/><circle cx="387.3" cy="1393.0" r="6.65"/><circle cx="396.3" cy="1393.0" r="6.65"/><circle cx="400.7" cy="1393.0" r="6.65"/><circle cx="404.1" cy="1393.0" r="6.65"/><circle cx="410.3" cy="1393.0" r="6.65"/><circle cx="414.4" cy="1393.0" r="6.65"/><circle cx="417.7" cy="1393.0" r="6.65"/><circle cx="421.3" cy="1393.0" r="6.65"/><circle cx="424.2" cy="1393.0" r="6.65"/><circle cx="428.1" cy="1393.0" r="6.65"/><circle cx="432.8" cy="1393.0" r="6.65"/><circle cx="437.4" cy="1393.0" r="6.65"/><circle cx="445.2" cy="1393.0" r="6.65"/><circle cx="449.8" cy="1393.0" r="6.65"/><circle cx="455.8" cy="1393.0" r="6.65"/><circle cx="459.5" cy="1393.0" r="6.65"/><circle cx="464.4" cy="1393.0" r="6.65"/><circle cx="467.1" cy="1393.0" r="6.65"/><circle cx="471.3" cy="1393.0" r="6.65"/><circle cx="473.9" cy="1393.0" r="6.65"/><circle cx="481.5" cy="1393.0" r="6.65"/><circle cx="487.9" cy="1393.0" r="6.65"/><circle cx="491.7" cy="1393.0" r="6.65"/><circle cx="497.6" cy="1393.0" r="6.65"/><circle cx="506.6" cy="1393.0" r="6.65"/><circle cx="509.8" cy="1393.0" r="6.65"/><circle cx="518.1" cy="1393.0" r="6.65"/><circle cx="523.6" cy="1393.0" r="6.65"/><circle cx="529.6" cy="1393.0" r="6.65"/><circle cx="537.9" cy="1393.0" r="6.65"/><circle cx="543.2" cy="1393.0" r="6.65"/><circle cx="549.2" cy="1393.0" r="6.65"/><circle cx="556.5" cy="1393.0" r="6.65"/><circle cx="559.9" cy="1393.0" r="6.65"/><circle cx="296.9" cy="1417.7" r="6.65"/><circle cx="301.8" cy="1417.7" r="6.65"/><circle cx="310.1" cy="1417.7" r="6.65"/><circle cx="317.5" cy="1417.7" r="6.65"/><circle cx="324.5" cy="1417.7" r="6.65"/><circle cx="329.8" cy="1417.7" r="6.65"/><circle cx="334.8" cy="1417.7" r="6.65"/><circle cx="337.6" cy="1417.7" r="6.65"/><circle cx="341.1" cy="1417.7" r="6.65"/><circle cx="344.0" cy="1417.7" r="6.65"/><circle cx="351.7" cy="1417.7" r="6.65"/><circle cx="356.0" cy="1417.7" r="6.65"/><circle cx="359.7" cy="1417.7" r="6.65"/><circle cx="362.8" cy="1417.7" r="6.65"/><circle cx="371.1" cy="1417.7" r="6.65"/><circle cx="379.7" cy="1417.7" r="6.65"/><circle cx="386.9" cy="1417.7" r="6.65"/><circle cx="391.4" cy="1417.7" r="6.65"/><circle cx="395.6" cy="1417.7" r="6.65"/><circle cx="400.2" cy="1417.7" r="6.65"/><circle cx="405.9" cy="1417.7" r="6.65"/><circle cx="409.5" cy="1417.7" r="6.65"/><circle cx="415.1" cy="1417.7" r="6.65"/><circle cx="419.4" cy="1417.7" r="6.65"/><circle cx="428.7" cy="1417.7" r="6.65"/><circle cx="438.0" cy="1417.7" r="6.65"/><circle cx="444.3" cy="1417.7" r="6.65"/><circle cx="448.5" cy="1417.7" r="6.65"/><circle cx="457.8" cy="1417.7" r="6.65"/><circle cx="462.4" cy="1417.7" r="6.65"/><circle cx="467.4" cy="1417.7" r="6.65"/><circle cx="470.0" cy="1417.7" r="6.65"/><circle cx="475.1" cy="1417.7" r="6.65"/><circle cx="480.9" cy="1417.7" r="6.65"/><circle cx="487.0" cy="1417.7" r="6.65"/><circle cx="490.9" cy="1417.7" r="6.65"/><circle cx="496.9" cy="1417.7" r="6.65"/><circle cx="499.4" cy="1417.7" r="6.65"/><circle cx="503.8" cy="1417.7" r="6.65"/><circle cx="506.9" cy="1417.7" r="6.65"/><circle cx="512.2" cy="1417.7" r="6.65"/><circle cx="515.0" cy="1417.7" r="6.65"/><circle cx="517.7" cy="1417.7" r="6.65"/><circle cx="522.3" cy="1417.7" r="6.65"/><circle cx="526.4" cy="1417.7" r="6.65"/><circle cx="533.0" cy="1417.7" r="6.65"/><circle cx="539.2" cy="1417.7" r="6.65"/><circle cx="547.0" cy="1417.7" r="6.65"/><circle cx="554.1" cy="1417.7" r="6.65"/><circle cx="559.9" cy="1417.7" r="6.65"/><circle cx="277.8" cy="1442.4" r="6.65"/><circle cx="286.4" cy="1442.4" r="6.65"/><circle cx="291.6" cy="1442.4" r="6.65"/><circle cx="296.4" cy="1442.4" r="6.65"/><circle cx="305.8" cy="1442.4" r="6.65"/><circle cx="309.4" cy="1442.4" r="6.65"/><circle cx="316.9" cy="1442.4" r="6.65"/><circle cx="323.9" cy="1442.4" r="6.65"/><circle cx="326.7" cy="1442.4" r="6.65"/><circle cx="335.1" cy="1442.4" r="6.65"/><circle cx="343.8" cy="1442.4" r="6.65"/><circle cx="350.7" cy="1442.4" r="6.65"/><circle cx="358.4" cy="1442.4" r="6.65"/><circle cx="366.5" cy="1442.4" r="6.65"/><circle cx="370.0" cy="1442.4" r="6.65"/><circle cx="376.2" cy="1442.4" r="6.65"/><circle cx="382.2" cy="1442.4" r="6.65"/><circle cx="390.6" cy="1442.4" r="6.65"/><circle cx="398.7" cy="1442.4" r="6.65"/><circle cx="407.0" cy="1442.4" r="6.65"/><circle cx="413.6" cy="1442.4" r="6.65"/><circle cx="422.3" cy="1442.4" r="6.65"/><circle cx="429.6" cy="1442.4" r="6.65"/><circle cx="436.9" cy="1442.4" r="6.65"/><circle cx="441.1" cy="1442.4" r="6.65"/><circle cx="443.8" cy="1442.4" r="6.65"/><circle cx="447.2" cy="1442.4" r="6.65"/><circle cx="452.2" cy="1442.4" r="6.65"/><circle cx="455.5" cy="1442.4" r="6.65"/><circle cx="463.8" cy="1442.4" r="6.65"/><circle cx="470.2" cy="1442.4" r="6.65"/><circle cx="477.1" cy="1442.4" r="6.65"/><circle cx="484.0" cy="1442.4" r="6.65"/><circle cx="491.3" cy="1442.4" r="6.65"/><circle cx="497.2" cy="1442.4" r="6.65"/><circle cx="499.7" cy="1442.4" r="6.65"/><circle cx="507.8" cy="1442.4" r="6.65"/><circle cx="515.5" cy="1442.4" r="6.65"/><circle cx="521.6" cy="1442.4" r="6.65"/><circle cx="527.8" cy="1442.4" r="6.65"/><circle cx="534.9" cy="1442.4" r="6.65"/><circle cx="537.9" cy="1442.4" r="6.65"/><circle cx="545.5" cy="1442.4" r="6.65"/><circle cx="549.8" cy="1442.4" r="6.65"/><circle cx="552.8" cy="1442.4" r="6.65"/><circle cx="557.2" cy="1442.4" r="6.65"/><circle cx="559.9" cy="1442.4" r="6.65"/><circle cx="260.3" cy="1467.1" r="6.65"/><circle cx="264.2" cy="1467.1" r="6.65"/><circle cx="271.9" cy="1467.1" r="6.65"/><circle cx="281.3" cy="1467.1" r="6.65"/><circle cx="287.2" cy="1467.1" r="6.65"/><circle cx="292.4" cy="1467.1" r="6.65"/><circle cx="298.2" cy="1467.1" r="6.65"/><circle cx="305.5" cy="1467.1" r="6.65"/><circle cx="313.4" cy="1467.1" r="6.65"/><circle cx="320.2" cy="1467.1" r="6.65"/><circle cx="327.2" cy="1467.1" r="6.65"/><circle cx="330.3" cy="1467.1" r="6.65"/><circle cx="333.8" cy="1467.1" r="6.65"/><circle cx="338.1" cy="1467.1" r="6.65"/><circle cx="345.8" cy="1467.1" r="6.65"/><circle cx="350.4" cy="1467.1" r="6.65"/><circle cx="356.9" cy="1467.1" r="6.65"/><circle cx="359.5" cy="1467.1" r="6.65"/><circle cx="362.4" cy="1467.1" r="6.65"/><circle cx="366.8" cy="1467.1" r="6.65"/><circle cx="374.0" cy="1467.1" r="6.65"/><circle cx="381.3" cy="1467.1" r="6.65"/><circle cx="388.6" cy="1467.1" r="6.65"/><circle cx="393.1" cy="1467.1" r="6.65"/><circle cx="399.2" cy="1467.1" r="6.65"/><circle cx="405.0" cy="1467.1" r="6.65"/><circle cx="410.7" cy="1467.1" r="6.65"/><circle cx="414.1" cy="1467.1" r="6.65"/><circle cx="422.8" cy="1467.1" r="6.65"/><circle cx="426.7" cy="1467.1" r="6.65"/><circle cx="436.0" cy="1467.1" r="6.65"/><circle cx="445.1" cy="1467.1" r="6.65"/><circle cx="447.7" cy="1467.1" r="6.65"/><circle cx="453.4" cy="1467.1" r="6.65"/><circle cx="461.7" cy="1467.1" r="6.65"/><circle cx="471.0" cy="1467.1" r="6.65"/><circle cx="476.6" cy="1467.1" r="6.65"/><circle cx="481.0" cy="1467.1" r="6.65"/><circle cx="484.9" cy="1467.1" r="6.65"/><circle cx="494.1" cy="1467.1" r="6.65"/><circle cx="498.0" cy="1467.1" r="6.65"/><circle cx="504.6" cy="1467.1" r="6.65"/><circle cx="508.1" cy="1467.1" r="6.65"/><circle cx="514.3" cy="1467.1" r="6.65"/><circle cx="523.4" cy="1467.1" r="6.65"/><circle cx="526.9" cy="1467.1" r="6.65"/><circle cx="535.1" cy="1467.1" r="6.65"/><circle cx="541.2" cy="1467.1" r="6.65"/><circle cx="549.9" cy="1467.1" r="6.65"/><circle cx="557.3" cy="1467.1" r="6.65"/><circle cx="559.9" cy="1467.1" r="6.65"/><circle cx="241.0" cy="1491.8" r="6.65"/><circle cx="249.8" cy="1491.8" r="6.65"/><circle cx="255.7" cy="1491.8" r="6.65"/><circle cx="258.4" cy="1491.8" r="6.65"/><circle cx="260.9" cy="1491.8" r="6.65"/><circle cx="266.8" cy="1491.8" r="6.65"/><circle cx="272.5" cy="1491.8" r="6.65"/><circle cx="277.1" cy="1491.8" r="6.65"/><circle cx="280.6" cy="1491.8" r="6.65"/><circle cx="285.5" cy="1491.8" r="6.65"/><circle cx="290.2" cy="1491.8" r="6.65"/><circle cx="298.6" cy="1491.8" r="6.65"/><circle cx="301.1" cy="1491.8" r="6.65"/><circle cx="308.9" cy="1491.8" r="6.65"/><circle cx="317.2" cy="1491.8" r="6.65"/><circle cx="320.6" cy="1491.8" r="6.65"/><circle cx="329.6" cy="1491.8" r="6.65"/><circle cx="337.0" cy="1491.8" r="6.65"/><circle cx="345.9" cy="1491.8" r="6.65"/><circle cx="350.4" cy="1491.8" r="6.65"/><circle cx="355.5" cy="1491.8" r="6.65"/><circle cx="360.7" cy="1491.8" r="6.65"/><circle cx="370.2" cy="1491.8" r="6.65"/><circle cx="376.9" cy="1491.8" r="6.65"/><circle cx="381.9" cy="1491.8" r="6.65"/><circle cx="387.4" cy="1491.8" r="6.65"/><circle cx="391.8" cy="1491.8" r="6.65"/><circle cx="394.6" cy="1491.8" r="6.65"/><circle cx="397.9" cy="1491.8" r="6.65"/><circle cx="406.2" cy="1491.8" r="6.65"/><circle cx="410.7" cy="1491.8" r="6.65"/><circle cx="419.7" cy="1491.8" r="6.65"/><circle cx="424.0" cy="1491.8" r="6.65"/><circle cx="428.3" cy="1491.8" r="6.65"/><circle cx="434.4" cy="1491.8" r="6.65"/><circle cx="438.3" cy="1491.8" r="6.65"/><circle cx="443.4" cy="1491.8" r="6.65"/><circle cx="452.6" cy="1491.8" r="6.65"/><circle cx="461.2" cy="1491.8" r="6.65"/><circle cx="469.4" cy="1491.8" r="6.65"/><circle cx="476.3" cy="1491.8" r="6.65"/><circle cx="485.2" cy="1491.8" r="6.65"/><circle cx="494.3" cy="1491.8" r="6.65"/><circle cx="500.7" cy="1491.8" r="6.65"/><circle cx="508.2" cy="1491.8" r="6.65"/><circle cx="511.1" cy="1491.8" r="6.65"/><circle cx="518.7" cy="1491.8" r="6.65"/><circle cx="524.3" cy="1491.8" r="6.65"/><circle cx="532.1" cy="1491.8" r="6.65"/><circle cx="539.1" cy="1491.8" r="6.65"/><circle cx="543.6" cy="1491.8" r="6.65"/><circle cx="546.5" cy="1491.8" r="6.65"/><circle cx="555.5" cy="1491.8" r="6.65"/><circle cx="559.9" cy="1491.8" r="6.65"/><circle cx="223.8" cy="1516.5" r="6.65"/><circle cx="229.6" cy="1516.5" r="6.65"/><circle cx="234.5" cy="1516.5" r="6.65"/><circle cx="239.0" cy="1516.5" r="6.65"/><circle cx="246.7" cy="1516.5" r="6.65"/><circle cx="256.1" cy="1516.5" r="6.65"/><circle cx="260.4" cy="1516.5" r="6.65"/><circle cx="267.5" cy="1516.5" r="6.65"/><circle cx="272.1" cy="1516.5" r="6.65"/><circle cx="278.5" cy="1516.5" r="6.65"/><circle cx="283.7" cy="1516.5" r="6.65"/><circle cx="287.4" cy="1516.5" r="6.65"/><circle cx="291.0" cy="1516.5" r="6.65"/><circle cx="295.0" cy="1516.5" r="6.65"/><circle cx="303.8" cy="1516.5" r="6.65"/><circle cx="309.8" cy="1516.5" r="6.65"/><circle cx="313.9" cy="1516.5" r="6.65"/><circle cx="322.7" cy="1516.5" r="6.65"/><circle cx="332.2" cy="1516.5" r="6.65"/><circle cx="337.8" cy="1516.5" r="6.65"/><circle cx="341.3" cy="1516.5" r="6.65"/><circle cx="345.1" cy="1516.5" r="6.65"/><circle cx="348.3" cy="1516.5" r="6.65"/><circle cx="353.2" cy="1516.5" r="6.65"/><circle cx="356.3" cy="1516.5" r="6.65"/><circle cx="360.5" cy="1516.5" r="6.65"/><circle cx="364.8" cy="1516.5" r="6.65"/><circle cx="371.3" cy="1516.5" r="6.65"/><circle cx="380.0" cy="1516.5" r="6.65"/><circle cx="387.7" cy="1516.5" r="6.65"/><circle cx="393.1" cy="1516.5" r="6.65"/><circle cx="398.5" cy="1516.5" r="6.65"/><circle cx="404.7" cy="1516.5" r="6.65"/><circle cx="409.8" cy="1516.5" r="6.65"/><circle cx="414.7" cy="1516.5" r="6.65"/><circle cx="417.6" cy="1516.5" r="6.65"/><circle cx="422.1" cy="1516.5" r="6.65"/><circle cx="431.4" cy="1516.5" r="6.65"/><circle cx="434.7" cy="1516.5" r="6.65"/><circle cx="440.8" cy="1516.5" r="6.65"/><circle cx="447.7" cy="1516.5" r="6.65"/><circle cx="456.2" cy="1516.5" r="6.65"/><circle cx="460.2" cy="1516.5" r="6.65"/><circle cx="464.6" cy="1516.5" r="6.65"/><circle cx="468.9" cy="1516.5" r="6.65"/><circle cx="474.2" cy="1516.5" r="6.65"/><circle cx="479.8" cy="1516.5" r="6.65"/><circle cx="489.0" cy="1516.5" r="6.65"/><circle cx="497.4" cy="1516.5" r="6.65"/><circle cx="506.0" cy="1516.5" r="6.65"/><circle cx="508.7" cy="1516.5" r="6.65"/><circle cx="511.4" cy="1516.5" r="6.65"/><circle cx="518.8" cy="1516.5" r="6.65"/><circle cx="527.6" cy="1516.5" r="6.65"/><circle cx="533.4" cy="1516.5" r="6.65"/><circle cx="540.0" cy="1516.5" r="6.65"/><circle cx="542.5" cy="1516.5" r="6.65"/><circle cx="547.8" cy="1516.5" r="6.65"/><circle cx="556.8" cy="1516.5" r="6.65"/><circle cx="559.9" cy="1516.5" r="6.65"/><circle cx="205.0" cy="1541.3" r="6.65"/><circle cx="213.5" cy="1541.3" r="6.65"/><circle cx="222.8" cy="1541.3" r="6.65"/><circle cx="227.0" cy="1541.3" r="6.65"/><circle cx="230.3" cy="1541.3" r="6.65"/><circle cx="233.9" cy="1541.3" r="6.65"/><circle cx="240.0" cy="1541.3" r="6.65"/><circle cx="247.3" cy="1541.3" r="6.65"/><circle cx="256.4" cy="1541.3" r="6.65"/><circle cx="264.0" cy="1541.3" r="6.65"/><circle cx="271.0" cy="1541.3" r="6.65"/><circle cx="278.8" cy="1541.3" r="6.65"/><circle cx="284.5" cy="1541.3" r="6.65"/><circle cx="290.9" cy="1541.3" r="6.65"/><circle cx="293.7" cy="1541.3" r="6.65"/><circle cx="301.7" cy="1541.3" r="6.65"/><circle cx="305.8" cy="1541.3" r="6.65"/><circle cx="314.7" cy="1541.3" r="6.65"/><circle cx="321.7" cy="1541.3" r="6.65"/><circle cx="326.4" cy="1541.3" r="6.65"/><circle cx="329.8" cy="1541.3" r="6.65"/><circle cx="334.0" cy="1541.3" r="6.65"/><circle cx="341.0" cy="1541.3" r="6.65"/><circle cx="348.4" cy="1541.3" r="6.65"/><circle cx="351.7" cy="1541.3" r="6.65"/><circle cx="354.6" cy="1541.3" r="6.65"/><circle cx="360.8" cy="1541.3" r="6.65"/><circle cx="367.4" cy="1541.3" r="6.65"/><circle cx="372.6" cy="1541.3" r="6.65"/><circle cx="376.7" cy="1541.3" r="6.65"/><circle cx="383.4" cy="1541.3" r="6.65"/><circle cx="386.0" cy="1541.3" r="6.65"/><circle cx="390.6" cy="1541.3" r="6.65"/><circle cx="396.3" cy="1541.3" r="6.65"/><circle cx="405.5" cy="1541.3" r="6.65"/><circle cx="412.5" cy="1541.3" r="6.65"/><circle cx="421.2" cy="1541.3" r="6.65"/><circle cx="427.0" cy="1541.3" r="6.65"/><circle cx="431.2" cy="1541.3" r="6.65"/><circle cx="435.4" cy="1541.3" r="6.65"/><circle cx="444.6" cy="1541.3" r="6.65"/><circle cx="452.1" cy="1541.3" r="6.65"/><circle cx="456.7" cy="1541.3" r="6.65"/><circle cx="459.4" cy="1541.3" r="6.65"/><circle cx="465.4" cy="1541.3" r="6.65"/><circle cx="472.6" cy="1541.3" r="6.65"/><circle cx="478.0" cy="1541.3" r="6.65"/><circle cx="482.3" cy="1541.3" r="6.65"/><circle cx="489.5" cy="1541.3" r="6.65"/><circle cx="498.5" cy="1541.3" r="6.65"/><circle cx="502.5" cy="1541.3" r="6.65"/><circle cx="505.3" cy="1541.3" r="6.65"/><circle cx="510.2" cy="1541.3" r="6.65"/><circle cx="515.6" cy="1541.3" r="6.65"/><circle cx="522.9" cy="1541.3" r="6.65"/><circle cx="526.8" cy="1541.3" r="6.65"/><circle cx="534.8" cy="1541.3" r="6.65"/><circle cx="542.5" cy="1541.3" r="6.65"/><circle cx="548.6" cy="1541.3" r="6.65"/><circle cx="552.5" cy="1541.3" r="6.65"/><circle cx="559.9" cy="1541.3" r="6.65"/><circle cx="185.3" cy="1566.0" r="6.65"/><circle cx="190.0" cy="1566.0" r="6.65"/><circle cx="198.2" cy="1566.0" r="6.65"/><circle cx="202.4" cy="1566.0" r="6.65"/><circle cx="206.4" cy="1566.0" r="6.65"/><circle cx="214.2" cy="1566.0" r="6.65"/><circle cx="218.8" cy="1566.0" r="6.65"/><circle cx="228.0" cy="1566.0" r="6.65"/><circle cx="233.9" cy="1566.0" r="6.65"/><circle cx="237.7" cy="1566.0" r="6.65"/><circle cx="241.8" cy="1566.0" r="6.65"/><circle cx="247.2" cy="1566.0" r="6.65"/><circle cx="254.4" cy="1566.0" r="6.65"/><circle cx="263.5" cy="1566.0" r="6.65"/><circle cx="267.0" cy="1566.0" r="6.65"/><circle cx="272.3" cy="1566.0" r="6.65"/><circle cx="276.3" cy="1566.0" r="6.65"/><circle cx="285.6" cy="1566.0" r="6.65"/><circle cx="289.1" cy="1566.0" r="6.65"/><circle cx="292.0" cy="1566.0" r="6.65"/><circle cx="294.9" cy="1566.0" r="6.65"/><circle cx="300.1" cy="1566.0" r="6.65"/><circle cx="308.9" cy="1566.0" r="6.65"/><circle cx="317.6" cy="1566.0" r="6.65"/><circle cx="325.2" cy="1566.0" r="6.65"/><circle cx="334.7" cy="1566.0" r="6.65"/><circle cx="343.7" cy="1566.0" r="6.65"/><circle cx="348.5" cy="1566.0" r="6.65"/><circle cx="352.3" cy="1566.0" r="6.65"/><circle cx="361.4" cy="1566.0" r="6.65"/><circle cx="369.1" cy="1566.0" r="6.65"/><circle cx="371.8" cy="1566.0" r="6.65"/><circle cx="379.0" cy="1566.0" r="6.65"/><circle cx="384.1" cy="1566.0" r="6.65"/><circle cx="389.3" cy="1566.0" r="6.65"/><circle cx="394.1" cy="1566.0" r="6.65"/><circle cx="397.8" cy="1566.0" r="6.65"/><circle cx="400.3" cy="1566.0" r="6.65"/><circle cx="404.7" cy="1566.0" r="6.65"/><circle cx="409.7" cy="1566.0" r="6.65"/><circle cx="418.9" cy="1566.0" r="6.65"/><circle cx="422.3" cy="1566.0" r="6.65"/><circle cx="431.5" cy="1566.0" r="6.65"/><circle cx="435.5" cy="1566.0" r="6.65"/><circle cx="440.5" cy="1566.0" r="6.65"/><circle cx="448.7" cy="1566.0" r="6.65"/><circle cx="457.0" cy="1566.0" r="6.65"/><circle cx="462.5" cy="1566.0" r="6.65"/><circle cx="465.3" cy="1566.0" r="6.65"/><circle cx="471.1" cy="1566.0" r="6.65"/><circle cx="476.3" cy="1566.0" r="6.65"/><circle cx="485.2" cy="1566.0" r="6.65"/><circle cx="489.0" cy="1566.0" r="6.65"/><circle cx="494.1" cy="1566.0" r="6.65"/><circle cx="502.9" cy="1566.0" r="6.65"/><circle cx="505.6" cy="1566.0" r="6.65"/><circle cx="511.0" cy="1566.0" r="6.65"/><circle cx="519.1" cy="1566.0" r="6.65"/><circle cx="527.0" cy="1566.0" r="6.65"/><circle cx="529.8" cy="1566.0" r="6.65"/><circle cx="532.5" cy="1566.0" r="6.65"/><circle cx="535.0" cy="1566.0" r="6.65"/><circle cx="549.1" cy="1566.0" r="6.65"/><circle cx="563.1" cy="1566.0" r="6.65"/><circle cx="187.6" cy="1557.7" r="6.65"/><circle cx="196.6" cy="1557.7" r="6.65"/><circle cx="200.9" cy="1557.7" r="6.65"/><circle cx="208.6" cy="1557.7" r="6.65"/><circle cx="217.4" cy="1557.7" r="6.65"/><circle cx="222.3" cy="1557.7" r="6.65"/><circle cx="226.7" cy="1557.7" r="6.65"/><circle cx="235.9" cy="1557.7" r="6.65"/><circle cx="242.7" cy="1557.7" r="6.65"/><circle cx="247.0" cy="1557.7" r="6.65"/><circle cx="254.5" cy="1557.7" r="6.65"/><circle cx="259.3" cy="1557.7" r="6.65"/><circle cx="263.7" cy="1557.7" r="6.65"/><circle cx="266.2" cy="1557.7" r="6.65"/><circle cx="274.0" cy="1557.7" r="6.65"/><circle cx="282.9" cy="1557.7" r="6.65"/><circle cx="285.8" cy="1557.7" r="6.65"/><circle cx="321.2" cy="1557.7" r="6.65"/><circle cx="340.0" cy="1557.7" r="6.65"/><circle cx="346.2" cy="1557.7" r="6.65"/><circle cx="363.1" cy="1557.7" r="6.65"/><circle cx="368.1" cy="1557.7" r="6.65"/><circle cx="372.5" cy="1557.7" r="6.65"/><circle cx="411.2" cy="1557.7" r="6.65"/><circle cx="417.5" cy="1557.7" r="6.65"/><circle cx="193.8" cy="1549.5" r="6.65"/><circle cx="202.9" cy="1549.5" r="6.65"/><circle cx="205.5" cy="1549.5" r="6.65"/><circle cx="209.7" cy="1549.5" r="6.65"/><circle cx="215.8" cy="1549.5" r="6.65"/><circle cx="263.0" cy="1549.5" r="6.65"/><circle cx="272.2" cy="1549.5" r="6.65"/><circle cx="274.5" cy="1549.5" r="6.65"/><circle cx="299.2" cy="1549.5" r="6.65"/><circle cx="303.2" cy="1549.5" r="6.65"/><circle cx="206.0" cy="1533.0" r="6.65"/><circle cx="210.3" cy="1533.0" r="6.65"/><circle cx="215.8" cy="1533.0" r="6.65"/><circle cx="221.7" cy="1533.0" r="6.65"/><circle cx="230.7" cy="1533.0" r="6.65"/><circle cx="234.5" cy="1533.0" r="6.65"/><circle cx="242.6" cy="1533.0" r="6.65"/><circle cx="250.3" cy="1533.0" r="6.65"/><circle cx="258.5" cy="1533.0" r="6.65"/><circle cx="266.5" cy="1533.0" r="6.65"/><circle cx="273.2" cy="1533.0" r="6.65"/><circle cx="278.0" cy="1533.0" r="6.65"/><circle cx="282.7" cy="1533.0" r="6.65"/><circle cx="287.8" cy="1533.0" r="6.65"/><circle cx="295.7" cy="1533.0" r="6.65"/><circle cx="298.8" cy="1533.0" r="6.65"/><circle cx="302.7" cy="1533.0" r="6.65"/><circle cx="310.5" cy="1533.0" r="6.65"/><circle cx="314.7" cy="1533.0" r="6.65"/><circle cx="317.6" cy="1533.0" r="6.65"/><circle cx="320.8" cy="1533.0" r="6.65"/><circle cx="366.2" cy="1533.0" r="6.65"/><circle cx="380.0" cy="1533.0" r="6.65"/><circle cx="391.2" cy="1533.0" r="6.65"/><circle cx="212.0" cy="1524.8" r="6.65"/><circle cx="218.4" cy="1524.8" r="6.65"/><circle cx="223.1" cy="1524.8" r="6.65"/><circle cx="234.5" cy="1524.8" r="6.65"/><circle cx="254.2" cy="1524.8" r="6.65"/><circle cx="258.2" cy="1524.8" r="6.65"/><circle cx="291.8" cy="1524.8" r="6.65"/><circle cx="297.0" cy="1524.8" r="6.65"/><circle cx="323.0" cy="1524.8" r="6.65"/><circle cx="326.2" cy="1524.8" r="6.65"/><circle cx="224.2" cy="1508.3" r="6.65"/><circle cx="227.3" cy="1508.3" r="6.65"/><circle cx="230.5" cy="1508.3" r="6.65"/><circle cx="236.5" cy="1508.3" r="6.65"/><circle cx="244.0" cy="1508.3" r="6.65"/><circle cx="249.6" cy="1508.3" r="6.65"/><circle cx="253.7" cy="1508.3" r="6.65"/><circle cx="259.2" cy="1508.3" r="6.65"/><circle cx="266.0" cy="1508.3" r="6.65"/><circle cx="270.8" cy="1508.3" r="6.65"/><circle cx="284.4" cy="1508.3" r="6.65"/><circle cx="298.0" cy="1508.3" r="6.65"/><circle cx="305.7" cy="1508.3" r="6.65"/><circle cx="314.2" cy="1508.3" r="6.65"/><circle cx="321.3" cy="1508.3" r="6.65"/><circle cx="324.7" cy="1508.3" r="6.65"/><circle cx="333.0" cy="1508.3" r="6.65"/><circle cx="337.6" cy="1508.3" r="6.65"/><circle cx="344.1" cy="1508.3" r="6.65"/><circle cx="349.2" cy="1508.3" r="6.65"/><circle cx="356.9" cy="1508.3" r="6.65"/><circle cx="360.7" cy="1508.3" r="6.65"/><circle cx="365.0" cy="1508.3" r="6.65"/><circle cx="369.2" cy="1508.3" r="6.65"/><circle cx="372.8" cy="1508.3" r="6.65"/><circle cx="378.2" cy="1508.3" r="6.65"/><circle cx="393.8" cy="1508.3" r="6.65"/><circle cx="427.5" cy="1508.3" r="6.65"/><circle cx="230.6" cy="1500.1" r="6.65"/><circle cx="259.2" cy="1500.1" r="6.65"/><circle cx="265.8" cy="1500.1" r="6.65"/><circle cx="270.8" cy="1500.1" r="6.65"/><circle cx="297.5" cy="1500.1" r="6.65"/><circle cx="329.2" cy="1500.1" r="6.65"/><circle cx="334.5" cy="1500.1" r="6.65"/><circle cx="340.8" cy="1500.1" r="6.65"/><circle cx="242.6" cy="1483.6" r="6.65"/><circle cx="248.7" cy="1483.6" r="6.65"/><circle cx="252.8" cy="1483.6" r="6.65"/><circle cx="261.0" cy="1483.6" r="6.65"/><circle cx="268.0" cy="1483.6" r="6.65"/><circle cx="277.5" cy="1483.6" r="6.65"/><circle cx="280.7" cy="1483.6" r="6.65"/><circle cx="286.5" cy="1483.6" r="6.65"/><circle cx="294.7" cy="1483.6" r="6.65"/><circle cx="303.1" cy="1483.6" r="6.65"/><circle cx="312.0" cy="1483.6" r="6.65"/><circle cx="314.8" cy="1483.6" r="6.65"/><circle cx="319.4" cy="1483.6" r="6.65"/><circle cx="322.7" cy="1483.6" r="6.65"/><circle cx="328.2" cy="1483.6" r="6.65"/><circle cx="340.0" cy="1483.6" r="6.65"/><circle cx="350.0" cy="1483.6" r="6.65"/><circle cx="360.0" cy="1483.6" r="6.65"/><circle cx="391.8" cy="1483.6" r="6.65"/><circle cx="401.1" cy="1483.6" r="6.65"/><circle cx="407.6" cy="1483.6" r="6.65"/><circle cx="416.7" cy="1483.6" r="6.65"/><circle cx="421.8" cy="1483.6" r="6.65"/><circle cx="430.3" cy="1483.6" r="6.65"/><circle cx="436.0" cy="1483.6" r="6.65"/><circle cx="440.0" cy="1483.6" r="6.65"/><circle cx="249.1" cy="1475.4" r="6.65"/><circle cx="270.5" cy="1475.4" r="6.65"/><circle cx="273.2" cy="1475.4" r="6.65"/><circle cx="308.1" cy="1475.4" r="6.65"/><circle cx="272.5" cy="1458.9" r="6.65"/><circle cx="282.5" cy="1458.9" r="6.65"/><circle cx="297.5" cy="1458.9" r="6.65"/><circle cx="351.8" cy="1458.9" r="6.65"/><circle cx="360.9" cy="1458.9" r="6.65"/><circle cx="364.1" cy="1458.9" r="6.65"/><circle cx="370.8" cy="1458.9" r="6.65"/><circle cx="377.6" cy="1458.9" r="6.65"/><circle cx="381.6" cy="1458.9" r="6.65"/><circle cx="386.7" cy="1458.9" r="6.65"/><circle cx="390.2" cy="1458.9" r="6.65"/><circle cx="394.1" cy="1458.9" r="6.65"/><circle cx="398.4" cy="1458.9" r="6.65"/><circle cx="403.2" cy="1458.9" r="6.65"/><circle cx="435.0" cy="1458.9" r="6.65"/><circle cx="337.5" cy="1450.6" r="6.65"/><circle cx="370.0" cy="1450.6" r="6.65"/><circle cx="301.2" cy="1434.2" r="6.65"/><circle cx="308.8" cy="1434.2" r="6.65"/><circle cx="326.2" cy="1434.2" r="6.65"/><circle cx="332.5" cy="1434.2" r="6.65"/><circle cx="337.5" cy="1434.2" r="6.65"/><circle cx="370.0" cy="1434.2" r="6.65"/><circle cx="375.0" cy="1434.2" r="6.65"/><circle cx="394.4" cy="1434.2" r="6.65"/><circle cx="417.5" cy="1434.2" r="6.65"/><circle cx="426.2" cy="1434.2" r="6.65"/><circle cx="435.0" cy="1434.2" r="6.65"/><circle cx="454.4" cy="1533.0" r="6.65"/><circle cx="508.8" cy="1533.0" r="6.65"/><circle cx="452.5" cy="1508.3" r="6.65"/><circle cx="467.5" cy="1508.3" r="6.65"/><circle cx="458.1" cy="1483.6" r="6.65"/><circle cx="465.2" cy="1483.6" r="6.65"/><circle cx="469.1" cy="1483.6" r="6.65"/><circle cx="471.7" cy="1483.6" r="6.65"/><circle cx="476.5" cy="1483.6" r="6.65"/><circle cx="483.7" cy="1483.6" r="6.65"/><circle cx="487.5" cy="1483.6" r="6.65"/><circle cx="492.2" cy="1483.6" r="6.65"/><circle cx="496.1" cy="1483.6" r="6.65"/><circle cx="503.1" cy="1483.6" r="6.65"/><circle cx="533.1" cy="1475.4" r="6.65"/><circle cx="452.5" cy="1458.9" r="6.65"/><circle cx="458.8" cy="1458.9" r="6.65"/><circle cx="461.8" cy="1458.9" r="6.65"/><circle cx="465.0" cy="1458.9" r="6.65"/><circle cx="470.3" cy="1458.9" r="6.65"/><circle cx="476.6" cy="1458.9" r="6.65"/><circle cx="482.5" cy="1458.9" r="6.65"/><circle cx="525.6" cy="1458.9" r="6.65"/><circle cx="553.8" cy="1458.9" r="6.65"/><circle cx="525.6" cy="1450.6" r="6.65"/><circle cx="469.4" cy="1434.2" r="6.65"/><circle cx="492.8" cy="1434.2" r="6.65"/><circle cx="517.2" cy="1434.2" r="6.65"/><circle cx="305.3" cy="1409.4" r="6.65"/><circle cx="325.9" cy="1409.4" r="6.65"/><circle cx="349.4" cy="1409.4" r="6.65"/><circle cx="362.5" cy="1409.4" r="6.65"/><circle cx="365.6" cy="1409.4" r="6.65"/><circle cx="369.3" cy="1409.4" r="6.65"/><circle cx="376.7" cy="1409.4" r="6.65"/><circle cx="382.0" cy="1409.4" r="6.65"/><circle cx="386.5" cy="1409.4" r="6.65"/><circle cx="391.2" cy="1409.4" r="6.65"/><circle cx="401.9" cy="1409.4" r="6.65"/><circle cx="411.3" cy="1409.4" r="6.65"/><circle cx="415.9" cy="1409.4" r="6.65"/><circle cx="422.4" cy="1409.4" r="6.65"/><circle cx="427.4" cy="1409.4" r="6.65"/><circle cx="431.9" cy="1409.4" r="6.65"/><circle cx="463.8" cy="1409.4" r="6.65"/><circle cx="486.3" cy="1409.4" r="6.65"/><circle cx="494.8" cy="1409.4" r="6.65"/><circle cx="504.3" cy="1409.4" r="6.65"/><circle cx="509.3" cy="1409.4" r="6.65"/><circle cx="513.2" cy="1409.4" r="6.65"/><circle cx="520.8" cy="1409.4" r="6.65"/><circle cx="524.7" cy="1409.4" r="6.65"/><circle cx="527.3" cy="1409.4" r="6.65"/><circle cx="535.0" cy="1409.4" r="6.65"/><circle cx="553.8" cy="1409.4" r="6.65"/><circle cx="364.4" cy="1401.2" r="6.65"/><circle cx="508.8" cy="1401.2" r="6.65"/><circle cx="514.2" cy="1401.2" r="6.65"/><circle cx="522.5" cy="1401.2" r="6.65"/><circle cx="527.8" cy="1401.2" r="6.65"/><circle cx="536.9" cy="1401.2" r="6.65"/><circle cx="334.4" cy="1384.7" r="6.65"/><circle cx="376.6" cy="1384.7" r="6.65"/><circle cx="422.5" cy="1384.7" r="6.65"/><circle cx="518.1" cy="1384.7" r="6.65"/><circle cx="542.5" cy="1384.7" r="6.65"/><circle cx="532.2" cy="1376.5" r="6.65"/><circle cx="370.9" cy="1360.0" r="6.65"/><circle cx="403.8" cy="1360.0" r="6.65"/><circle cx="412.2" cy="1360.0" r="6.65"/><circle cx="450.6" cy="1360.0" r="6.65"/><circle cx="420.6" cy="1335.3" r="6.65"/><circle cx="445.0" cy="1335.3" r="6.65"/><circle cx="531.3" cy="1335.3" r="6.65"/><circle cx="407.5" cy="1327.1" r="6.65"/><circle cx="453.4" cy="1327.1" r="6.65"/><circle cx="434.7" cy="1310.6" r="6.65"/><circle cx="454.4" cy="1310.6" r="6.65"/><circle cx="476.9" cy="1310.6" r="6.65"/><circle cx="550.0" cy="1310.6" r="6.65"/><circle cx="383.1" cy="1302.3" r="6.65"/><circle cx="542.5" cy="1302.3" r="6.65"/>
</g>
<path d="M162.8 1096.4 H1995.2 M2086.0 1096.4 H2452.8" stroke="#858585" stroke-width="1.7" fill="none"/>
<path d="M2006.8 1096.4 H2080.0" stroke="#858585" stroke-width="1.5" stroke-dasharray="6.3 6.77" fill="none"/>
<path d="M1996.7 1096.4 h3" stroke="#858585" stroke-width="1.5" fill="none"/>
<g fill="#FF00FF">
<circle cx="336.6" cy="527.9" r="7.0"/><circle cx="295.6" cy="676.2" r="7.0"/><circle cx="293.8" cy="873.9" r="7.0"/><circle cx="260.5" cy="1121.1" r="7.0"/><circle cx="217.5" cy="1269.4" r="7.0"/><circle cx="191.9" cy="1442.4" r="7.0"/><circle cx="178.8" cy="1467.1" r="7.0"/><circle cx="181.6" cy="1491.8" r="7.0"/><circle cx="171.3" cy="1516.5" r="7.0"/><circle cx="169.4" cy="1541.3" r="7.0"/><circle cx="170.3" cy="1533.0" r="7.0"/>
</g>
<g fill="#00A84F">
<circle cx="410.9" cy="602.0" r="7.0"/><circle cx="337.2" cy="849.2" r="7.0"/><circle cx="326.6" cy="923.3" r="7.0"/><circle cx="323.4" cy="972.8" r="7.0"/><circle cx="293.2" cy="1096.4" r="7.0"/><circle cx="271.2" cy="1121.1" r="7.0"/><circle cx="252.5" cy="1195.2" r="7.0"/><circle cx="259.2" cy="1195.2" r="7.0"/><circle cx="220.8" cy="1343.5" r="7.0"/><circle cx="220.9" cy="1343.5" r="7.0"/><circle cx="214.4" cy="1393.0" r="7.0"/><circle cx="198.4" cy="1442.4" r="7.0"/><circle cx="189.1" cy="1467.1" r="7.0"/><circle cx="187.2" cy="1491.8" r="7.0"/><circle cx="177.8" cy="1516.5" r="7.0"/><circle cx="173.5" cy="1541.3" r="7.0"/>
</g>
<g fill="#FFC000">
<circle cx="441.2" cy="602.0" r="7.0"/><circle cx="415.6" cy="799.8" r="7.0"/><circle cx="400.0" cy="849.2" r="7.0"/><circle cx="333.0" cy="1046.9" r="7.0"/><circle cx="327.5" cy="1071.6" r="7.0"/><circle cx="271.2" cy="1244.7" r="7.0"/><circle cx="275.5" cy="1269.4" r="7.0"/><circle cx="255.8" cy="1294.1" r="7.0"/><circle cx="246.8" cy="1343.5" r="7.0"/><circle cx="249.2" cy="1351.8" r="7.0"/><circle cx="246.6" cy="1343.5" r="7.0"/><circle cx="249.6" cy="1351.8" r="7.0"/><circle cx="233.5" cy="1368.2" r="7.0"/><circle cx="230.3" cy="1393.0" r="7.0"/><circle cx="220.0" cy="1434.2" r="7.0"/><circle cx="206.9" cy="1442.4" r="7.0"/><circle cx="199.4" cy="1467.1" r="7.0"/><circle cx="193.8" cy="1491.8" r="7.0"/><circle cx="183.4" cy="1516.5" r="7.0"/><circle cx="176.9" cy="1541.3" r="7.0"/><circle cx="167.5" cy="1566.0" r="7.0"/>
</g>
<g fill="#00AEEF">
<circle cx="678.1" cy="676.2" r="7.0"/><circle cx="654.7" cy="775.0" r="7.0"/><circle cx="516.2" cy="824.5" r="7.0"/><circle cx="440.0" cy="873.9" r="7.0"/><circle cx="467.8" cy="948.1" r="7.0"/><circle cx="474.1" cy="948.1" r="7.0"/><circle cx="409.4" cy="972.8" r="7.0"/><circle cx="363.0" cy="1071.6" r="7.0"/><circle cx="393.0" cy="1071.6" r="7.0"/><circle cx="402.5" cy="1071.6" r="7.0"/><circle cx="523.8" cy="1071.6" r="7.0"/><circle cx="508.8" cy="1079.9" r="7.0"/><circle cx="395.0" cy="1096.4" r="7.0"/><circle cx="356.2" cy="1121.1" r="7.0"/><circle cx="388.5" cy="1121.1" r="7.0"/><circle cx="423.5" cy="1137.6" r="7.0"/><circle cx="455.5" cy="1145.8" r="7.0"/><circle cx="409.5" cy="1170.5" r="7.0"/><circle cx="342.8" cy="1195.2" r="7.0"/><circle cx="345.0" cy="1219.9" r="7.0"/><circle cx="411.2" cy="1219.9" r="7.0"/><circle cx="382.5" cy="1244.7" r="7.0"/><circle cx="396.2" cy="1244.7" r="7.0"/><circle cx="400.0" cy="1244.7" r="7.0"/><circle cx="393.0" cy="1261.1" r="7.0"/><circle cx="372.0" cy="1269.4" r="7.0"/><circle cx="386.2" cy="1269.4" r="7.0"/><circle cx="396.2" cy="1269.4" r="7.0"/><circle cx="317.0" cy="1294.1" r="7.0"/><circle cx="353.8" cy="1294.1" r="7.0"/><circle cx="363.8" cy="1294.1" r="7.0"/><circle cx="372.5" cy="1294.1" r="7.0"/><circle cx="293.1" cy="1318.8" r="7.0"/><circle cx="316.6" cy="1318.8" r="7.0"/><circle cx="324.1" cy="1318.8" r="7.0"/><circle cx="329.7" cy="1318.8" r="7.0"/><circle cx="344.7" cy="1318.8" r="7.0"/><circle cx="351.3" cy="1318.8" r="7.0"/><circle cx="356.9" cy="1318.8" r="7.0"/><circle cx="272.1" cy="1343.5" r="7.0"/><circle cx="331.6" cy="1343.5" r="7.0"/><circle cx="337.2" cy="1343.5" r="7.0"/><circle cx="275.9" cy="1360.0" r="7.0"/><circle cx="270.6" cy="1368.2" r="7.0"/><circle cx="291.3" cy="1368.2" r="7.0"/><circle cx="297.0" cy="1368.2" r="7.0"/><circle cx="300.6" cy="1368.2" r="7.0"/><circle cx="303.2" cy="1368.2" r="7.0"/><circle cx="309.6" cy="1368.2" r="7.0"/><circle cx="316.6" cy="1368.2" r="7.0"/><circle cx="319.4" cy="1368.2" r="7.0"/><circle cx="310.9" cy="1376.5" r="7.0"/><circle cx="240.6" cy="1393.0" r="7.0"/><circle cx="243.7" cy="1393.0" r="7.0"/><circle cx="248.1" cy="1393.0" r="7.0"/><circle cx="259.4" cy="1393.0" r="7.0"/><circle cx="264.5" cy="1393.0" r="7.0"/><circle cx="270.5" cy="1393.0" r="7.0"/><circle cx="274.0" cy="1393.0" r="7.0"/><circle cx="278.5" cy="1393.0" r="7.0"/><circle cx="284.7" cy="1393.0" r="7.0"/><circle cx="293.6" cy="1393.0" r="7.0"/><circle cx="296.9" cy="1393.0" r="7.0"/><circle cx="302.8" cy="1393.0" r="7.0"/><circle cx="309.1" cy="1393.0" r="7.0"/><circle cx="236.9" cy="1417.7" r="7.0"/><circle cx="246.1" cy="1417.7" r="7.0"/><circle cx="250.0" cy="1417.7" r="7.0"/><circle cx="253.4" cy="1417.7" r="7.0"/><circle cx="262.5" cy="1417.7" r="7.0"/><circle cx="271.8" cy="1417.7" r="7.0"/><circle cx="277.7" cy="1417.7" r="7.0"/><circle cx="280.6" cy="1417.7" r="7.0"/><circle cx="291.3" cy="1417.7" r="7.0"/><circle cx="276.3" cy="1425.9" r="7.0"/><circle cx="250.0" cy="1434.2" r="7.0"/><circle cx="217.2" cy="1442.4" r="7.0"/><circle cx="222.4" cy="1442.4" r="7.0"/><circle cx="231.2" cy="1442.4" r="7.0"/><circle cx="238.1" cy="1442.4" r="7.0"/><circle cx="246.3" cy="1442.4" r="7.0"/><circle cx="250.0" cy="1442.4" r="7.0"/><circle cx="258.0" cy="1442.4" r="7.0"/><circle cx="262.0" cy="1442.4" r="7.0"/><circle cx="267.4" cy="1442.4" r="7.0"/><circle cx="272.5" cy="1442.4" r="7.0"/><circle cx="207.8" cy="1467.1" r="7.0"/><circle cx="216.1" cy="1467.1" r="7.0"/><circle cx="219.9" cy="1467.1" r="7.0"/><circle cx="223.9" cy="1467.1" r="7.0"/><circle cx="229.2" cy="1467.1" r="7.0"/><circle cx="235.3" cy="1467.1" r="7.0"/><circle cx="240.5" cy="1467.1" r="7.0"/><circle cx="243.9" cy="1467.1" r="7.0"/><circle cx="248.1" cy="1467.1" r="7.0"/><circle cx="254.7" cy="1467.1" r="7.0"/><circle cx="199.4" cy="1491.8" r="7.0"/><circle cx="208.2" cy="1491.8" r="7.0"/><circle cx="210.9" cy="1491.8" r="7.0"/><circle cx="217.4" cy="1491.8" r="7.0"/><circle cx="225.2" cy="1491.8" r="7.0"/><circle cx="227.9" cy="1491.8" r="7.0"/><circle cx="235.9" cy="1491.8" r="7.0"/><circle cx="190.0" cy="1516.5" r="7.0"/><circle cx="193.3" cy="1516.5" r="7.0"/><circle cx="200.0" cy="1516.5" r="7.0"/><circle cx="206.4" cy="1516.5" r="7.0"/><circle cx="213.3" cy="1516.5" r="7.0"/><circle cx="218.1" cy="1516.5" r="7.0"/><circle cx="180.6" cy="1541.3" r="7.0"/><circle cx="186.1" cy="1541.3" r="7.0"/><circle cx="192.6" cy="1541.3" r="7.0"/><circle cx="198.1" cy="1541.3" r="7.0"/><circle cx="200.3" cy="1541.3" r="7.0"/><circle cx="171.6" cy="1566.0" r="7.0"/><circle cx="177.3" cy="1566.0" r="7.0"/><circle cx="181.0" cy="1566.0" r="7.0"/><circle cx="176.2" cy="1557.7" r="7.0"/><circle cx="178.8" cy="1557.7" r="7.0"/><circle cx="187.1" cy="1557.7" r="7.0"/><circle cx="179.2" cy="1549.5" r="7.0"/><circle cx="185.1" cy="1549.5" r="7.0"/><circle cx="189.3" cy="1549.5" r="7.0"/><circle cx="193.2" cy="1549.5" r="7.0"/><circle cx="185.3" cy="1533.0" r="7.0"/><circle cx="193.3" cy="1533.0" r="7.0"/><circle cx="199.0" cy="1533.0" r="7.0"/><circle cx="202.8" cy="1533.0" r="7.0"/><circle cx="205.4" cy="1533.0" r="7.0"/><circle cx="188.4" cy="1524.8" r="7.0"/><circle cx="191.6" cy="1524.8" r="7.0"/><circle cx="195.0" cy="1524.8" r="7.0"/><circle cx="200.5" cy="1524.8" r="7.0"/><circle cx="203.7" cy="1524.8" r="7.0"/><circle cx="209.3" cy="1524.8" r="7.0"/><circle cx="211.6" cy="1524.8" r="7.0"/><circle cx="194.5" cy="1508.3" r="7.0"/><circle cx="197.3" cy="1508.3" r="7.0"/><circle cx="204.2" cy="1508.3" r="7.0"/><circle cx="207.3" cy="1508.3" r="7.0"/><circle cx="214.9" cy="1508.3" r="7.0"/><circle cx="223.8" cy="1508.3" r="7.0"/><circle cx="197.5" cy="1500.1" r="7.0"/><circle cx="203.6" cy="1500.1" r="7.0"/><circle cx="206.5" cy="1500.1" r="7.0"/><circle cx="212.5" cy="1500.1" r="7.0"/><circle cx="217.7" cy="1500.1" r="7.0"/><circle cx="226.8" cy="1500.1" r="7.0"/><circle cx="229.9" cy="1500.1" r="7.0"/><circle cx="230.0" cy="1483.6" r="7.0"/><circle cx="240.0" cy="1483.6" r="7.0"/><circle cx="230.0" cy="1475.4" r="7.0"/><circle cx="239.5" cy="1475.4" r="7.0"/><circle cx="245.0" cy="1475.4" r="7.0"/><circle cx="240.6" cy="1458.9" r="7.0"/><circle cx="255.6" cy="1458.9" r="7.0"/><circle cx="240.6" cy="1450.6" r="7.0"/>
</g>
<path d="M1906.5 917.0 L171.0 1566.7" stroke="#AEAAAA" stroke-width="3.6" stroke-dasharray="6.9 7.2" stroke-dashoffset="0" stroke-linecap="round" stroke-linejoin="round" fill="none"/>
<path d="M336.8 557.0 L327.5 605.0 L310.0 717.5 L267.5 960.0 L202.5 1357.5 L169.4 1572.0" stroke="#FF1AD0" stroke-width="3.6" stroke-dasharray="6.9 7.2" stroke-dashoffset="0" stroke-linecap="round" stroke-linejoin="round" fill="none"/>
<path d="M409.5 603.0 L398.6 636.2 L380.6 718.8 L315.0 980.0 L222.5 1357.5 L169.4 1572.0" stroke="#00A84F" stroke-width="3.6" stroke-dasharray="6.9 7.2" stroke-dashoffset="0" stroke-linecap="round" stroke-linejoin="round" fill="none"/>
<path d="M440.2 704.5 L169.4 1572.0" stroke="#FFC000" stroke-width="3.6" stroke-dasharray="6.9 7.2" stroke-dashoffset="0" stroke-linecap="round" stroke-linejoin="round" fill="none"/>
<path d="M668.2 729.0 L169.4 1572.0" stroke="#00AEEF" stroke-width="3.6" stroke-dasharray="6.9 7.2" stroke-dashoffset="0" stroke-linecap="round" stroke-linejoin="round" fill="none"/>
<path d="M671.7 721.7 L675.9 704.2" stroke="#00AEEF" stroke-width="3.6" stroke-linecap="round" fill="none"/>
<g fill="#FF0000">
<circle cx="946.9" cy="923.3" r="7.0"/><circle cx="752.5" cy="948.1" r="7.0"/><circle cx="765.6" cy="948.1" r="7.0"/><circle cx="997.5" cy="972.8" r="7.0"/><circle cx="872.2" cy="997.5" r="7.0"/><circle cx="940.9" cy="997.5" r="7.0"/><circle cx="1062.8" cy="1014.0" r="7.0"/><circle cx="1062.8" cy="1022.2" r="7.0"/><circle cx="655.9" cy="1022.2" r="7.0"/><circle cx="1180.6" cy="1022.2" r="7.0"/><circle cx="913.8" cy="1046.9" r="7.0"/><circle cx="956.9" cy="1046.9" r="7.0"/><circle cx="982.5" cy="1046.9" r="7.0"/><circle cx="541.9" cy="1088.1" r="7.0"/><circle cx="1382.2" cy="750.3" r="7.0"/><circle cx="1555.6" cy="948.1" r="7.0"/><circle cx="1597.5" cy="1005.7" r="7.0"/><circle cx="1284.4" cy="1022.2" r="7.0"/><circle cx="1348.1" cy="1022.2" r="7.0"/><circle cx="1423.4" cy="1071.6" r="7.0"/><circle cx="1505.9" cy="1071.6" r="7.0"/><circle cx="2312.4" cy="154.1" r="7.0"/><circle cx="2126.0" cy="286.9" r="7.0"/>
</g>
<g stroke="#000" fill="none">
<path d="M162.8 346.7 V17.1 H1995.2 M2086.0 17.1 H2452.8 V346.7 M2452.8 437.2 V1591.4 H2086.0 M1995.2 1591.4 H162.8 V437.2" stroke-width="4.4" stroke-linejoin="miter" stroke-linecap="square"/>
<path d="M162.8 355.4 V431.2 M2452.8 355.4 V431.2" stroke-width="4.4" stroke-dasharray="5.6 7.57"/>
<path d="M2006.9 17.1 H2080.0 M2006.9 1591.4 H2080.0" stroke-width="4.4" stroke-dasharray="6.2 6.8"/>
<path d="M1996.7 17.1 h3.5 M1996.7 1591.4 h3.5" stroke-width="4.4"/>
<path d="M346.4 1591.4 v22 M529.6 1591.4 v22 M712.8 1591.4 v22 M896.0 1591.4 v22 M1079.2 1591.4 v22 M1262.4 1591.4 v22 M1445.6 1591.4 v22 M1628.8 1591.4 v22 M1812.0 1591.4 v22 M1995.2 1591.4 v22 M2086.0 1591.4 v22 M2269.5 1591.4 v22 M162.8 1425.9 h-23 M162.8 1261.1 h-23 M162.8 1096.4 h-23 M162.8 931.6 h-23 M162.8 766.8 h-23 M162.8 602.0 h-23 M162.8 437.2 h-23 M162.8 346.7 h-23 M162.8 181.9 h-23" stroke-width="2.4"/>
</g>
<g font-family="'Liberation Serif', serif" font-weight="bold" font-size="37.5" fill="#000">
<text x="342.9" y="1650" text-anchor="middle">1000</text>
<text x="526.6" y="1650" text-anchor="middle">2000</text>
<text x="710.2" y="1650" text-anchor="middle">3000</text>
<text x="893.9" y="1650" text-anchor="middle">4000</text>
<text x="1077.5" y="1650" text-anchor="middle">5000</text>
<text x="1261.1" y="1650" text-anchor="middle">6000</text>
<text x="1444.8" y="1650" text-anchor="middle">7000</text>
<text x="1628.4" y="1650" text-anchor="middle">8000</text>
<text x="1812.1" y="1650" text-anchor="middle">9000</text>
<text x="1995.7" y="1650" text-anchor="middle">10000</text>
<text x="2093.0" y="1650" text-anchor="middle">25000</text>
<text x="2270.4" y="1650" text-anchor="middle">30000</text>
<text x="2451.7" y="1650" text-anchor="middle">35000</text>
<text x="115" y="1650" text-anchor="middle">0</text>
<text x="136" y="1441.1" text-anchor="end">20</text>
<text x="136" y="1276.3" text-anchor="end">40</text>
<text x="136" y="1111.6" text-anchor="end">60</text>
<text x="136" y="946.8" text-anchor="end">80</text>
<text x="136" y="782.0" text-anchor="end">100</text>
<text x="136" y="617.2" text-anchor="end">120</text>
<text x="136" y="452.4" text-anchor="end">140</text>
<text x="136" y="357.1" text-anchor="end">200</text>
<text x="136" y="192.3" text-anchor="end">300</text>
<text x="136" y="27.5" text-anchor="end">400</text>
</g>
<text font-family="'Liberation Serif', serif" font-weight="bold" font-size="56.5" x="1292" y="1728.2" text-anchor="middle">Protein Length (amino acids)</text>
<text font-family="'Liberation Serif', serif" font-weight="bold" font-size="56.5" transform="translate(39.8 772.5) rotate(-90)" text-anchor="middle" xml:space="preserve">AHTP  Length (bp) in Each Protein</text>
<g font-family="'Liberation Serif', serif" font-weight="bold" font-size="24.4">
<text transform="translate(1395.3 756.6) scale(0.943 1)" fill="#FF0000">FAT1</text>
<text transform="translate(1565.6 954.4) scale(0.943 1)" fill="#FF0000">GPR98</text>
<text transform="translate(1525.6 1011.9) scale(0.943 1)" fill="#FF0000">PCLO</text>
<text transform="translate(1277.5 1011.3) scale(0.943 1)" fill="#FF0000">MACF1</text>
<text transform="translate(1191.3 1030.6) scale(0.943 1)" fill="#FF0000">UBE4A</text>
<text transform="translate(1359.4 1027.8) scale(0.943 1)" fill="#FF0000">NEBU</text>
<text transform="translate(1349.4 1080.0) scale(0.943 1)" fill="#FF0000">PCLO</text>
<text transform="translate(1517.2 1080.0) scale(0.943 1)" fill="#FF0000">TITIN</text>
<text transform="translate(667.8 782.2) scale(0.943 1)" fill="#00AEEF">COL7A1</text>
<text transform="translate(530.3 830.6) scale(0.943 1)" fill="#00AEEF">COL11A1</text>
<text transform="translate(961.9 931.3) scale(0.943 1)" fill="#FF0000">KMT2C</text>
<text transform="translate(638.4 954.7) scale(0.943 1)" fill="#FF0000">COL14A1</text>
<text transform="translate(775.0 954.7) scale(0.943 1)" fill="#FF0000">ZBT38</text>
<text transform="translate(1010.0 980.3) scale(0.943 1)" fill="#FF0000">KMT2D</text>
<text transform="translate(796.9 1005.6) scale(0.943 1)" fill="#FF0000">MYSS</text>
<text transform="translate(950.9 1005.6) scale(0.943 1)" fill="#FF0000">SMUF2</text>
<text transform="translate(1069.4 1007.8) scale(0.943 1)" fill="#FF0000">MYH7</text>
<text transform="translate(1069.4 1040.6) scale(0.943 1)" fill="#FF0000">KMT2C</text>
<text transform="translate(544.4 1028.8) scale(0.943 1)" fill="#FF0000">COL12A1</text>
<text transform="translate(817.8 1055.6) scale(0.943 1)" fill="#FF0000">HMCN2</text>
<text transform="translate(991.3 1055.6) scale(0.943 1)" fill="#FF0000">FREM1</text>
<text transform="translate(920.9 1078.1) scale(0.943 1)" fill="#FF0000">VP13C</text>
<text transform="translate(219.4 529.4) scale(0.943 1)" fill="#FF00FF">COL10A1</text>
<text transform="translate(335.6 589.4) scale(0.943 1)" fill="#00A84F">COL4A2</text>
<text transform="translate(448.1 625.3) scale(0.943 1)" fill="#FFC000">COL11A1</text>
<text transform="translate(184.4 682.5) scale(0.943 1)" fill="#FF00FF">COL10A1</text>
<text transform="translate(691.3 682.5) scale(0.943 1)" fill="#00AEEF">FNBP1</text>
<text transform="translate(423.1 794.0) scale(0.943 1)" fill="#FFC000">COL11A1</text>
<text transform="translate(404.7 840.0) scale(0.943 1)" fill="#FFC000">COL4A2</text>
<text transform="translate(229.4 843.4) scale(0.943 1)" fill="#00A84F">COL27A1</text>
<text transform="translate(192.2 874.4) scale(0.943 1)" fill="#FF00FF">COL4A1</text>
<text transform="translate(456.3 883.8) scale(0.943 1)" fill="#00AEEF">COL11A1</text>
<text transform="translate(223.4 923.1) scale(0.943 1)" fill="#00A84F">COL4A2</text>
<text transform="translate(370.3 954.4) scale(0.943 1)" fill="#00AEEF">COL4A3</text>
<text transform="translate(483.4 954.4) scale(0.943 1)" fill="#00AEEF">COL28A1</text>
<text transform="translate(223.4 978.4) scale(0.943 1)" fill="#00A84F">COL9A1</text>
<text transform="translate(417.8 979.4) scale(0.943 1)" fill="#00AEEF">COL4A6</text>
<text transform="translate(347.0 1054.0) scale(0.943 1)" fill="#FFC000">COL4A2</text>
<text transform="translate(2328.8 161.2) scale(0.943 1)" fill="#FF0000">TITIN</text>
<text transform="translate(2140.6 293.6) scale(0.943 1)" fill="#FF0000">TITIN</text>
</g>
<path d="M1009.1 40.5 H1688.9 A25.6 25.6 0 0 1 1714.5 66.1 V532.9 A25.6 25.6 0 0 1 1688.9 558.5 H1009.1 A25.6 25.6 0 0 1 983.5 532.9 V66.1 A25.6 25.6 0 0 1 1009.1 40.5 Z" fill="none" stroke="#000" stroke-width="4.4" stroke-dasharray="23.7 23.5" stroke-dashoffset="40.5"/>
<g font-family="'Liberation Serif', serif" font-weight="bold" fill="#000">
<text x="1035" y="100" font-size="46.5">Trend</text>
<text x="1230" y="100" font-size="49.4">AHTP/Protein Ratio</text>
<path d="M1046.4 156 H1138.2" stroke="#FF1AD0" stroke-width="3.5" stroke-dasharray="6.5 7.6" stroke-linecap="round" fill="none"/>
<circle cx="1247.5" cy="155.3" r="14.5" fill="#FF00FF"/>
<text x="1282" y="169.5" font-size="52">≥ 10%</text>
<path d="M1046.4 229 H1138.2" stroke="#00A84F" stroke-width="3.5" stroke-dasharray="6.5 7.6" stroke-linecap="round" fill="none"/>
<circle cx="1247.5" cy="228.3" r="14.5" fill="#00A84F"/>
<text x="1282" y="242.5" font-size="52">8% ~ 10%</text>
<path d="M1046.4 303 H1138.2" stroke="#FFC000" stroke-width="3.5" stroke-dasharray="6.5 7.6" stroke-linecap="round" fill="none"/>
<circle cx="1247.5" cy="302.3" r="14.5" fill="#FFC000"/>
<text x="1282" y="316.5" font-size="52">6% ~ 8%</text>
<path d="M1046.4 376 H1138.2" stroke="#00AEEF" stroke-width="3.5" stroke-dasharray="6.5 7.6" stroke-linecap="round" fill="none"/>
<circle cx="1247.5" cy="375.3" r="14.5" fill="#00AEEF"/>
<text x="1282" y="389.5" font-size="52">3% ~ 6%</text>
<path d="M1046.4 449 H1138.2" stroke="#AEAAAA" stroke-width="3.5" stroke-dasharray="6.5 7.6" stroke-linecap="round" fill="none"/>
<circle cx="1247.5" cy="448.3" r="14.5" fill="#AEAAAA"/>
<text x="1282" y="462.5" font-size="52">&lt; 3%</text>
<circle cx="1052" cy="513" r="14.5" fill="#FF0000"/>
<text x="1088" y="526" font-size="47" xml:space="preserve">&lt; 3%  &amp; AHTP Length ≥ 60</text>
</g>
</svg>
</body></html>
